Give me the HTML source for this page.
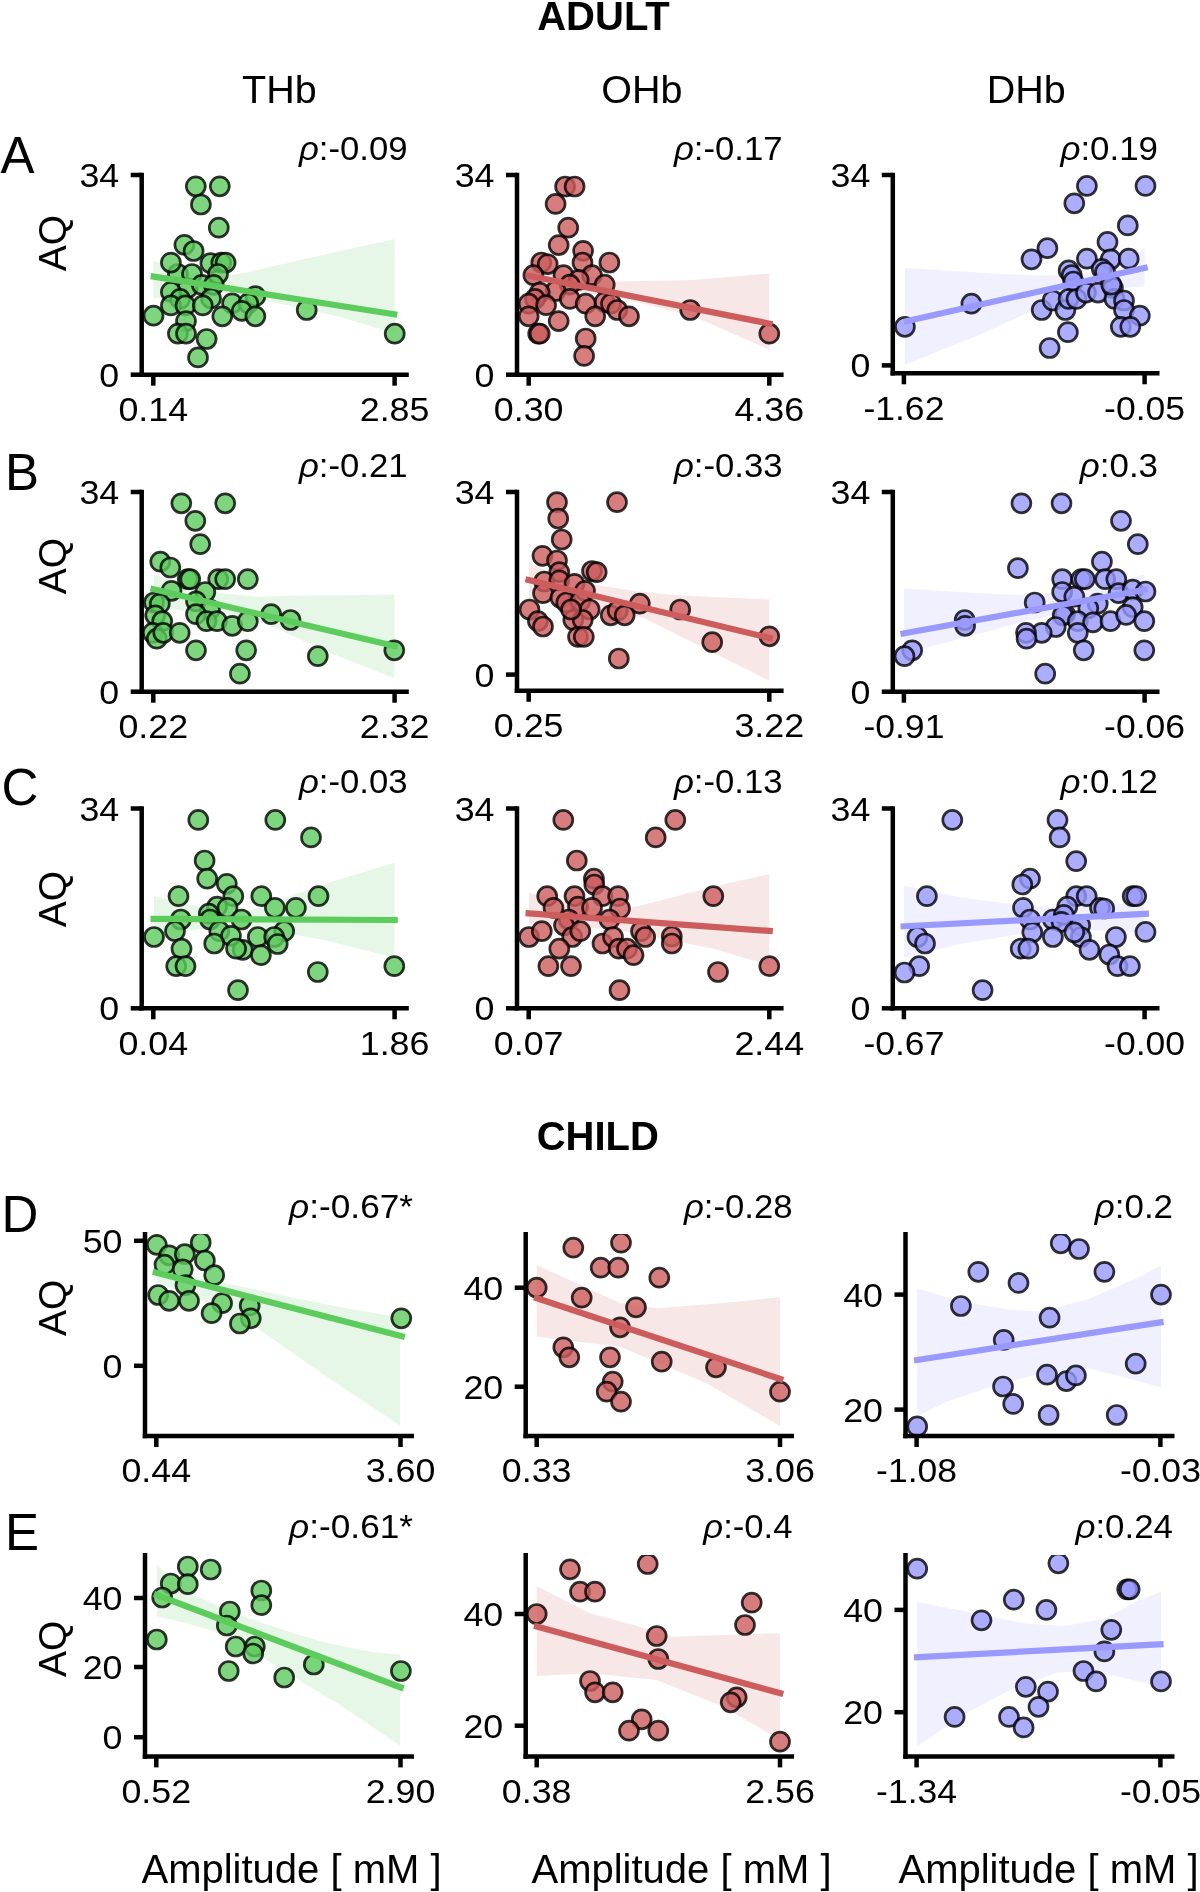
<!DOCTYPE html>
<html><head><meta charset="utf-8"><style>
html,body{margin:0;padding:0;background:#fff;width:1200px;height:1892px;overflow:hidden}
svg{display:block;font-family:"Liberation Sans",sans-serif;will-change:transform}
text{fill:#000}
</style></head><body>
<svg width="1200" height="1892" viewBox="0 0 1200 1892">
<rect width="1200" height="1892" fill="#fff"/>
<defs><clipPath id="c0"><rect x="141.7" y="163.0" width="277.1" height="211.7"/></clipPath><clipPath id="c1"><rect x="517.0" y="163.0" width="276.6" height="211.7"/></clipPath><clipPath id="c2"><rect x="892.8" y="163.0" width="276.70000000000005" height="210.3"/></clipPath><clipPath id="c3"><rect x="141.7" y="480.0" width="277.1" height="211.70000000000005"/></clipPath><clipPath id="c4"><rect x="517.0" y="480.0" width="276.6" height="210.79999999999995"/></clipPath><clipPath id="c5"><rect x="892.8" y="480.0" width="276.70000000000005" height="211.70000000000005"/></clipPath><clipPath id="c6"><rect x="141.7" y="796.5" width="277.1" height="211.79999999999995"/></clipPath><clipPath id="c7"><rect x="517.0" y="796.5" width="276.6" height="211.79999999999995"/></clipPath><clipPath id="c8"><rect x="892.8" y="796.5" width="276.70000000000005" height="211.79999999999995"/></clipPath><clipPath id="c9"><rect x="145.0" y="1234.0" width="279.0" height="202.0"/></clipPath><clipPath id="c10"><rect x="525.7" y="1234.0" width="278.29999999999995" height="202.0"/></clipPath><clipPath id="c11"><rect x="905.5" y="1234.0" width="279.0" height="202.0"/></clipPath><clipPath id="c12"><rect x="145.0" y="1555.0" width="279.0" height="201.4000000000001"/></clipPath><clipPath id="c13"><rect x="525.7" y="1555.0" width="278.29999999999995" height="201.4000000000001"/></clipPath><clipPath id="c14"><rect x="905.5" y="1555.0" width="279.0" height="201.4000000000001"/></clipPath></defs>
<g clip-path="url(#c0)">
<polygon points="153.3,260.7 193.0,272.5 220.0,277.0 247.0,272.5 287.0,263.0 340.0,251.0 394.7,239.3 394.7,333.2 340.0,317.0 287.0,305.0 247.0,297.0 220.0,292.5 193.0,293.0 153.3,298.5" fill="#5ccc5c" fill-opacity="0.15"/>
<circle cx="195.8" cy="186.3" r="9.5" fill="#5ccc5c" fill-opacity="0.8" stroke="#000" stroke-opacity="0.8" stroke-width="2.7"/>
<circle cx="219.8" cy="186.3" r="9.5" fill="#5ccc5c" fill-opacity="0.8" stroke="#000" stroke-opacity="0.8" stroke-width="2.7"/>
<circle cx="200.9" cy="204.5" r="9.5" fill="#5ccc5c" fill-opacity="0.8" stroke="#000" stroke-opacity="0.8" stroke-width="2.7"/>
<circle cx="218.8" cy="227.7" r="9.5" fill="#5ccc5c" fill-opacity="0.8" stroke="#000" stroke-opacity="0.8" stroke-width="2.7"/>
<circle cx="184.4" cy="244.8" r="9.5" fill="#5ccc5c" fill-opacity="0.8" stroke="#000" stroke-opacity="0.8" stroke-width="2.7"/>
<circle cx="193.6" cy="251.0" r="9.5" fill="#5ccc5c" fill-opacity="0.8" stroke="#000" stroke-opacity="0.8" stroke-width="2.7"/>
<circle cx="177.9" cy="274.0" r="9.5" fill="#5ccc5c" fill-opacity="0.8" stroke="#000" stroke-opacity="0.8" stroke-width="2.7"/>
<circle cx="187.7" cy="288.1" r="9.5" fill="#5ccc5c" fill-opacity="0.8" stroke="#000" stroke-opacity="0.8" stroke-width="2.7"/>
<circle cx="170.9" cy="262.6" r="9.5" fill="#5ccc5c" fill-opacity="0.8" stroke="#000" stroke-opacity="0.8" stroke-width="2.7"/>
<circle cx="210.4" cy="263.2" r="9.5" fill="#5ccc5c" fill-opacity="0.8" stroke="#000" stroke-opacity="0.8" stroke-width="2.7"/>
<circle cx="221.3" cy="262.6" r="9.5" fill="#5ccc5c" fill-opacity="0.8" stroke="#000" stroke-opacity="0.8" stroke-width="2.7"/>
<circle cx="225.6" cy="262.6" r="9.5" fill="#5ccc5c" fill-opacity="0.8" stroke="#000" stroke-opacity="0.8" stroke-width="2.7"/>
<circle cx="192.0" cy="274.0" r="9.5" fill="#5ccc5c" fill-opacity="0.8" stroke="#000" stroke-opacity="0.8" stroke-width="2.7"/>
<circle cx="218.0" cy="274.0" r="9.5" fill="#5ccc5c" fill-opacity="0.8" stroke="#000" stroke-opacity="0.8" stroke-width="2.7"/>
<circle cx="201.8" cy="284.8" r="9.5" fill="#5ccc5c" fill-opacity="0.8" stroke="#000" stroke-opacity="0.8" stroke-width="2.7"/>
<circle cx="213.7" cy="284.8" r="9.5" fill="#5ccc5c" fill-opacity="0.8" stroke="#000" stroke-opacity="0.8" stroke-width="2.7"/>
<circle cx="170.9" cy="291.9" r="9.5" fill="#5ccc5c" fill-opacity="0.8" stroke="#000" stroke-opacity="0.8" stroke-width="2.7"/>
<circle cx="180.1" cy="298.9" r="9.5" fill="#5ccc5c" fill-opacity="0.8" stroke="#000" stroke-opacity="0.8" stroke-width="2.7"/>
<circle cx="211.0" cy="298.4" r="9.5" fill="#5ccc5c" fill-opacity="0.8" stroke="#000" stroke-opacity="0.8" stroke-width="2.7"/>
<circle cx="170.9" cy="305.4" r="9.5" fill="#5ccc5c" fill-opacity="0.8" stroke="#000" stroke-opacity="0.8" stroke-width="2.7"/>
<circle cx="185.5" cy="305.4" r="9.5" fill="#5ccc5c" fill-opacity="0.8" stroke="#000" stroke-opacity="0.8" stroke-width="2.7"/>
<circle cx="202.8" cy="305.4" r="9.5" fill="#5ccc5c" fill-opacity="0.8" stroke="#000" stroke-opacity="0.8" stroke-width="2.7"/>
<circle cx="232.1" cy="303.3" r="9.5" fill="#5ccc5c" fill-opacity="0.8" stroke="#000" stroke-opacity="0.8" stroke-width="2.7"/>
<circle cx="255.4" cy="296.2" r="9.5" fill="#5ccc5c" fill-opacity="0.8" stroke="#000" stroke-opacity="0.8" stroke-width="2.7"/>
<circle cx="248.3" cy="303.3" r="9.5" fill="#5ccc5c" fill-opacity="0.8" stroke="#000" stroke-opacity="0.8" stroke-width="2.7"/>
<circle cx="241.8" cy="310.8" r="9.5" fill="#5ccc5c" fill-opacity="0.8" stroke="#000" stroke-opacity="0.8" stroke-width="2.7"/>
<circle cx="153.5" cy="315.7" r="9.5" fill="#5ccc5c" fill-opacity="0.8" stroke="#000" stroke-opacity="0.8" stroke-width="2.7"/>
<circle cx="222.3" cy="316.3" r="9.5" fill="#5ccc5c" fill-opacity="0.8" stroke="#000" stroke-opacity="0.8" stroke-width="2.7"/>
<circle cx="255.4" cy="316.3" r="9.5" fill="#5ccc5c" fill-opacity="0.8" stroke="#000" stroke-opacity="0.8" stroke-width="2.7"/>
<circle cx="186.0" cy="321.1" r="9.5" fill="#5ccc5c" fill-opacity="0.8" stroke="#000" stroke-opacity="0.8" stroke-width="2.7"/>
<circle cx="177.9" cy="333.6" r="9.5" fill="#5ccc5c" fill-opacity="0.8" stroke="#000" stroke-opacity="0.8" stroke-width="2.7"/>
<circle cx="186.0" cy="333.6" r="9.5" fill="#5ccc5c" fill-opacity="0.8" stroke="#000" stroke-opacity="0.8" stroke-width="2.7"/>
<circle cx="206.6" cy="339.0" r="9.5" fill="#5ccc5c" fill-opacity="0.8" stroke="#000" stroke-opacity="0.8" stroke-width="2.7"/>
<circle cx="198.0" cy="357.4" r="9.5" fill="#5ccc5c" fill-opacity="0.8" stroke="#000" stroke-opacity="0.8" stroke-width="2.7"/>
<circle cx="306.7" cy="310.0" r="9.5" fill="#5ccc5c" fill-opacity="0.8" stroke="#000" stroke-opacity="0.8" stroke-width="2.7"/>
<circle cx="394.7" cy="333.7" r="9.5" fill="#5ccc5c" fill-opacity="0.8" stroke="#000" stroke-opacity="0.8" stroke-width="2.7"/>
<line x1="150.7" y1="276.1" x2="397.3" y2="314.8" stroke="#5ccc5c" stroke-width="6.2" stroke-linecap="butt"/>
</g>
<line x1="141.7" y1="172.8" x2="141.7" y2="376.95" stroke="#000" stroke-width="4.5"/>
<line x1="139.45" y1="374.7" x2="408.8" y2="374.7" stroke="#000" stroke-width="4.5"/>
<line x1="130.7" y1="175.0" x2="141.7" y2="175.0" stroke="#000" stroke-width="4.5"/>
<line x1="130.7" y1="374.7" x2="141.7" y2="374.7" stroke="#000" stroke-width="4.5"/>
<line x1="153.3" y1="374.7" x2="153.3" y2="385.7" stroke="#000" stroke-width="4.5"/>
<line x1="394.6" y1="374.7" x2="394.6" y2="385.7" stroke="#000" stroke-width="4.5"/>
<text x="119.2" y="187.0" font-size="32.4" text-anchor="end" textLength="39.8" lengthAdjust="spacingAndGlyphs">34</text>
<text x="119.2" y="386.7" font-size="32.4" text-anchor="end" textLength="19.9" lengthAdjust="spacingAndGlyphs">0</text>
<text x="153.3" y="421.0" font-size="32.4" text-anchor="middle" textLength="69.7" lengthAdjust="spacingAndGlyphs">0.14</text>
<text x="394.6" y="421.0" font-size="32.4" text-anchor="middle" textLength="69.7" lengthAdjust="spacingAndGlyphs">2.85</text>
<text x="407.5" y="159.7" font-size="32.4" text-anchor="end" textLength="108.6" lengthAdjust="spacingAndGlyphs"><tspan font-style="italic">ρ</tspan>:-0.09</text>
<g clip-path="url(#c1)">
<polygon points="528.7,259.3 582.5,275.2 617.3,281.5 693.3,279.9 769.3,273.6 769.3,349.6 693.3,316.3 617.3,297.3 582.5,292.6 528.7,297.3" fill="#cd5c5c" fill-opacity="0.15"/>
<circle cx="565.1" cy="186.5" r="9.5" fill="#cd5c5c" fill-opacity="0.8" stroke="#000" stroke-opacity="0.8" stroke-width="2.7"/>
<circle cx="574.6" cy="186.5" r="9.5" fill="#cd5c5c" fill-opacity="0.8" stroke="#000" stroke-opacity="0.8" stroke-width="2.7"/>
<circle cx="555.6" cy="203.9" r="9.5" fill="#cd5c5c" fill-opacity="0.8" stroke="#000" stroke-opacity="0.8" stroke-width="2.7"/>
<circle cx="568.2" cy="227.7" r="9.5" fill="#cd5c5c" fill-opacity="0.8" stroke="#000" stroke-opacity="0.8" stroke-width="2.7"/>
<circle cx="558.7" cy="245.1" r="9.5" fill="#cd5c5c" fill-opacity="0.8" stroke="#000" stroke-opacity="0.8" stroke-width="2.7"/>
<circle cx="583.1" cy="250.8" r="9.5" fill="#cd5c5c" fill-opacity="0.8" stroke="#000" stroke-opacity="0.8" stroke-width="2.7"/>
<circle cx="582.5" cy="262.5" r="9.5" fill="#cd5c5c" fill-opacity="0.8" stroke="#000" stroke-opacity="0.8" stroke-width="2.7"/>
<circle cx="541.3" cy="262.5" r="9.5" fill="#cd5c5c" fill-opacity="0.8" stroke="#000" stroke-opacity="0.8" stroke-width="2.7"/>
<circle cx="547.7" cy="264.1" r="9.5" fill="#cd5c5c" fill-opacity="0.8" stroke="#000" stroke-opacity="0.8" stroke-width="2.7"/>
<circle cx="609.4" cy="262.5" r="9.5" fill="#cd5c5c" fill-opacity="0.8" stroke="#000" stroke-opacity="0.8" stroke-width="2.7"/>
<circle cx="533.4" cy="275.2" r="9.5" fill="#cd5c5c" fill-opacity="0.8" stroke="#000" stroke-opacity="0.8" stroke-width="2.7"/>
<circle cx="563.5" cy="275.2" r="9.5" fill="#cd5c5c" fill-opacity="0.8" stroke="#000" stroke-opacity="0.8" stroke-width="2.7"/>
<circle cx="592.0" cy="275.2" r="9.5" fill="#cd5c5c" fill-opacity="0.8" stroke="#000" stroke-opacity="0.8" stroke-width="2.7"/>
<circle cx="578.7" cy="279.9" r="9.5" fill="#cd5c5c" fill-opacity="0.8" stroke="#000" stroke-opacity="0.8" stroke-width="2.7"/>
<circle cx="604.7" cy="284.7" r="9.5" fill="#cd5c5c" fill-opacity="0.8" stroke="#000" stroke-opacity="0.8" stroke-width="2.7"/>
<circle cx="569.8" cy="284.7" r="9.5" fill="#cd5c5c" fill-opacity="0.8" stroke="#000" stroke-opacity="0.8" stroke-width="2.7"/>
<circle cx="555.6" cy="291.0" r="9.5" fill="#cd5c5c" fill-opacity="0.8" stroke="#000" stroke-opacity="0.8" stroke-width="2.7"/>
<circle cx="539.7" cy="292.6" r="9.5" fill="#cd5c5c" fill-opacity="0.8" stroke="#000" stroke-opacity="0.8" stroke-width="2.7"/>
<circle cx="535.0" cy="298.9" r="9.5" fill="#cd5c5c" fill-opacity="0.8" stroke="#000" stroke-opacity="0.8" stroke-width="2.7"/>
<circle cx="569.8" cy="298.9" r="9.5" fill="#cd5c5c" fill-opacity="0.8" stroke="#000" stroke-opacity="0.8" stroke-width="2.7"/>
<circle cx="528.7" cy="303.7" r="9.5" fill="#cd5c5c" fill-opacity="0.8" stroke="#000" stroke-opacity="0.8" stroke-width="2.7"/>
<circle cx="546.1" cy="305.2" r="9.5" fill="#cd5c5c" fill-opacity="0.8" stroke="#000" stroke-opacity="0.8" stroke-width="2.7"/>
<circle cx="585.7" cy="303.7" r="9.5" fill="#cd5c5c" fill-opacity="0.8" stroke="#000" stroke-opacity="0.8" stroke-width="2.7"/>
<circle cx="604.7" cy="302.1" r="9.5" fill="#cd5c5c" fill-opacity="0.8" stroke="#000" stroke-opacity="0.8" stroke-width="2.7"/>
<circle cx="611.0" cy="303.7" r="9.5" fill="#cd5c5c" fill-opacity="0.8" stroke="#000" stroke-opacity="0.8" stroke-width="2.7"/>
<circle cx="617.3" cy="310.0" r="9.5" fill="#cd5c5c" fill-opacity="0.8" stroke="#000" stroke-opacity="0.8" stroke-width="2.7"/>
<circle cx="595.2" cy="316.3" r="9.5" fill="#cd5c5c" fill-opacity="0.8" stroke="#000" stroke-opacity="0.8" stroke-width="2.7"/>
<circle cx="629.0" cy="316.3" r="9.5" fill="#cd5c5c" fill-opacity="0.8" stroke="#000" stroke-opacity="0.8" stroke-width="2.7"/>
<circle cx="528.7" cy="316.3" r="9.5" fill="#cd5c5c" fill-opacity="0.8" stroke="#000" stroke-opacity="0.8" stroke-width="2.7"/>
<circle cx="558.7" cy="321.1" r="9.5" fill="#cd5c5c" fill-opacity="0.8" stroke="#000" stroke-opacity="0.8" stroke-width="2.7"/>
<circle cx="538.2" cy="333.7" r="9.5" fill="#cd5c5c" fill-opacity="0.8" stroke="#000" stroke-opacity="0.8" stroke-width="2.7"/>
<circle cx="539.7" cy="333.7" r="9.5" fill="#cd5c5c" fill-opacity="0.8" stroke="#000" stroke-opacity="0.8" stroke-width="2.7"/>
<circle cx="585.7" cy="338.5" r="9.5" fill="#cd5c5c" fill-opacity="0.8" stroke="#000" stroke-opacity="0.8" stroke-width="2.7"/>
<circle cx="584.1" cy="355.9" r="9.5" fill="#cd5c5c" fill-opacity="0.8" stroke="#000" stroke-opacity="0.8" stroke-width="2.7"/>
<circle cx="690.2" cy="310.0" r="9.5" fill="#cd5c5c" fill-opacity="0.8" stroke="#000" stroke-opacity="0.8" stroke-width="2.7"/>
<circle cx="769.3" cy="333.7" r="9.5" fill="#cd5c5c" fill-opacity="0.8" stroke="#000" stroke-opacity="0.8" stroke-width="2.7"/>
<line x1="526.1" y1="275.2" x2="772.5" y2="324.2" stroke="#cd5c5c" stroke-width="6.2" stroke-linecap="butt"/>
</g>
<line x1="517.0" y1="172.8" x2="517.0" y2="376.95" stroke="#000" stroke-width="4.5"/>
<line x1="514.75" y1="374.7" x2="783.6" y2="374.7" stroke="#000" stroke-width="4.5"/>
<line x1="506.0" y1="175.0" x2="517.0" y2="175.0" stroke="#000" stroke-width="4.5"/>
<line x1="506.0" y1="374.7" x2="517.0" y2="374.7" stroke="#000" stroke-width="4.5"/>
<line x1="528.7" y1="374.7" x2="528.7" y2="385.7" stroke="#000" stroke-width="4.5"/>
<line x1="769.3" y1="374.7" x2="769.3" y2="385.7" stroke="#000" stroke-width="4.5"/>
<text x="494.5" y="187.0" font-size="32.4" text-anchor="end" textLength="39.8" lengthAdjust="spacingAndGlyphs">34</text>
<text x="494.5" y="386.7" font-size="32.4" text-anchor="end" textLength="19.9" lengthAdjust="spacingAndGlyphs">0</text>
<text x="528.7" y="421.0" font-size="32.4" text-anchor="middle" textLength="69.7" lengthAdjust="spacingAndGlyphs">0.30</text>
<text x="769.3" y="421.0" font-size="32.4" text-anchor="middle" textLength="69.7" lengthAdjust="spacingAndGlyphs">4.36</text>
<text x="782.5" y="159.7" font-size="32.4" text-anchor="end" textLength="108.6" lengthAdjust="spacingAndGlyphs"><tspan font-style="italic">ρ</tspan>:-0.17</text>
<g clip-path="url(#c2)">
<polygon points="904.9,267.9 994.2,273.6 1041.7,275.8 1105.0,272.0 1144.6,248.2 1144.6,286.2 1089.2,291.0 1041.7,306.8 978.3,335.3 904.9,364.8" fill="#9999ff" fill-opacity="0.15"/>
<circle cx="1086.9" cy="185.9" r="9.5" fill="#9999ff" fill-opacity="0.8" stroke="#000" stroke-opacity="0.8" stroke-width="2.7"/>
<circle cx="1145.5" cy="185.9" r="9.5" fill="#9999ff" fill-opacity="0.8" stroke="#000" stroke-opacity="0.8" stroke-width="2.7"/>
<circle cx="1074.3" cy="203.3" r="9.5" fill="#9999ff" fill-opacity="0.8" stroke="#000" stroke-opacity="0.8" stroke-width="2.7"/>
<circle cx="1127.8" cy="225.4" r="9.5" fill="#9999ff" fill-opacity="0.8" stroke="#000" stroke-opacity="0.8" stroke-width="2.7"/>
<circle cx="1107.5" cy="241.9" r="9.5" fill="#9999ff" fill-opacity="0.8" stroke="#000" stroke-opacity="0.8" stroke-width="2.7"/>
<circle cx="1047.4" cy="248.2" r="9.5" fill="#9999ff" fill-opacity="0.8" stroke="#000" stroke-opacity="0.8" stroke-width="2.7"/>
<circle cx="1031.5" cy="259.3" r="9.5" fill="#9999ff" fill-opacity="0.8" stroke="#000" stroke-opacity="0.8" stroke-width="2.7"/>
<circle cx="1086.9" cy="258.7" r="9.5" fill="#9999ff" fill-opacity="0.8" stroke="#000" stroke-opacity="0.8" stroke-width="2.7"/>
<circle cx="1110.7" cy="259.3" r="9.5" fill="#9999ff" fill-opacity="0.8" stroke="#000" stroke-opacity="0.8" stroke-width="2.7"/>
<circle cx="1128.7" cy="258.7" r="9.5" fill="#9999ff" fill-opacity="0.8" stroke="#000" stroke-opacity="0.8" stroke-width="2.7"/>
<circle cx="1068.6" cy="270.4" r="9.5" fill="#9999ff" fill-opacity="0.8" stroke="#000" stroke-opacity="0.8" stroke-width="2.7"/>
<circle cx="1071.7" cy="275.2" r="9.5" fill="#9999ff" fill-opacity="0.8" stroke="#000" stroke-opacity="0.8" stroke-width="2.7"/>
<circle cx="1101.8" cy="268.8" r="9.5" fill="#9999ff" fill-opacity="0.8" stroke="#000" stroke-opacity="0.8" stroke-width="2.7"/>
<circle cx="1073.3" cy="281.5" r="9.5" fill="#9999ff" fill-opacity="0.8" stroke="#000" stroke-opacity="0.8" stroke-width="2.7"/>
<circle cx="971.4" cy="303.7" r="9.5" fill="#9999ff" fill-opacity="0.8" stroke="#000" stroke-opacity="0.8" stroke-width="2.7"/>
<circle cx="904.9" cy="326.8" r="9.5" fill="#9999ff" fill-opacity="0.8" stroke="#000" stroke-opacity="0.8" stroke-width="2.7"/>
<circle cx="1041.7" cy="310.0" r="9.5" fill="#9999ff" fill-opacity="0.8" stroke="#000" stroke-opacity="0.8" stroke-width="2.7"/>
<circle cx="1052.7" cy="300.5" r="9.5" fill="#9999ff" fill-opacity="0.8" stroke="#000" stroke-opacity="0.8" stroke-width="2.7"/>
<circle cx="1065.4" cy="310.0" r="9.5" fill="#9999ff" fill-opacity="0.8" stroke="#000" stroke-opacity="0.8" stroke-width="2.7"/>
<circle cx="1068.6" cy="298.9" r="9.5" fill="#9999ff" fill-opacity="0.8" stroke="#000" stroke-opacity="0.8" stroke-width="2.7"/>
<circle cx="1076.5" cy="298.9" r="9.5" fill="#9999ff" fill-opacity="0.8" stroke="#000" stroke-opacity="0.8" stroke-width="2.7"/>
<circle cx="1086.0" cy="292.6" r="9.5" fill="#9999ff" fill-opacity="0.8" stroke="#000" stroke-opacity="0.8" stroke-width="2.7"/>
<circle cx="1098.0" cy="292.6" r="9.5" fill="#9999ff" fill-opacity="0.8" stroke="#000" stroke-opacity="0.8" stroke-width="2.7"/>
<circle cx="1112.9" cy="287.8" r="9.5" fill="#9999ff" fill-opacity="0.8" stroke="#000" stroke-opacity="0.8" stroke-width="2.7"/>
<circle cx="1114.5" cy="298.9" r="9.5" fill="#9999ff" fill-opacity="0.8" stroke="#000" stroke-opacity="0.8" stroke-width="2.7"/>
<circle cx="1124.0" cy="300.5" r="9.5" fill="#9999ff" fill-opacity="0.8" stroke="#000" stroke-opacity="0.8" stroke-width="2.7"/>
<circle cx="1124.0" cy="310.0" r="9.5" fill="#9999ff" fill-opacity="0.8" stroke="#000" stroke-opacity="0.8" stroke-width="2.7"/>
<circle cx="1139.8" cy="315.7" r="9.5" fill="#9999ff" fill-opacity="0.8" stroke="#000" stroke-opacity="0.8" stroke-width="2.7"/>
<circle cx="1120.8" cy="326.8" r="9.5" fill="#9999ff" fill-opacity="0.8" stroke="#000" stroke-opacity="0.8" stroke-width="2.7"/>
<circle cx="1130.3" cy="326.8" r="9.5" fill="#9999ff" fill-opacity="0.8" stroke="#000" stroke-opacity="0.8" stroke-width="2.7"/>
<circle cx="1067.9" cy="332.2" r="9.5" fill="#9999ff" fill-opacity="0.8" stroke="#000" stroke-opacity="0.8" stroke-width="2.7"/>
<circle cx="1049.6" cy="348.0" r="9.5" fill="#9999ff" fill-opacity="0.8" stroke="#000" stroke-opacity="0.8" stroke-width="2.7"/>
<circle cx="1105.0" cy="272.0" r="9.5" fill="#9999ff" fill-opacity="0.8" stroke="#000" stroke-opacity="0.8" stroke-width="2.7"/>
<circle cx="1111.3" cy="284.7" r="9.5" fill="#9999ff" fill-opacity="0.8" stroke="#000" stroke-opacity="0.8" stroke-width="2.7"/>
<line x1="903.9" y1="321.7" x2="1147.7" y2="267.2" stroke="#9999ff" stroke-width="6.2" stroke-linecap="butt"/>
</g>
<line x1="892.8" y1="172.8" x2="892.8" y2="375.55" stroke="#000" stroke-width="4.5"/>
<line x1="890.55" y1="373.3" x2="1159.5" y2="373.3" stroke="#000" stroke-width="4.5"/>
<line x1="881.8" y1="175.0" x2="892.8" y2="175.0" stroke="#000" stroke-width="4.5"/>
<line x1="881.8" y1="365.4" x2="892.8" y2="365.4" stroke="#000" stroke-width="4.5"/>
<line x1="903.9" y1="373.3" x2="903.9" y2="384.3" stroke="#000" stroke-width="4.5"/>
<line x1="1144.6" y1="373.3" x2="1144.6" y2="384.3" stroke="#000" stroke-width="4.5"/>
<text x="870.3" y="187.0" font-size="32.4" text-anchor="end" textLength="39.8" lengthAdjust="spacingAndGlyphs">34</text>
<text x="870.3" y="377.4" font-size="32.4" text-anchor="end" textLength="19.9" lengthAdjust="spacingAndGlyphs">0</text>
<text x="903.9" y="419.6" font-size="32.4" text-anchor="middle" textLength="81.0" lengthAdjust="spacingAndGlyphs">-1.62</text>
<text x="1144.6" y="419.6" font-size="32.4" text-anchor="middle" textLength="81.0" lengthAdjust="spacingAndGlyphs">-0.05</text>
<text x="1158.0" y="159.7" font-size="32.4" text-anchor="end" textLength="97.6" lengthAdjust="spacingAndGlyphs"><tspan font-style="italic">ρ</tspan>:0.19</text>
<g clip-path="url(#c3)">
<polygon points="154.0,574.5 186.7,585.0 221.7,593.2 256.7,596.7 303.3,595.5 394.3,594.8 394.3,678.3 326.7,651.5 268.3,624.7 221.7,613.0 186.7,610.7 154.0,607.2" fill="#5ccc5c" fill-opacity="0.15"/>
<circle cx="181.3" cy="503.3" r="9.5" fill="#5ccc5c" fill-opacity="0.8" stroke="#000" stroke-opacity="0.8" stroke-width="2.7"/>
<circle cx="225.2" cy="503.3" r="9.5" fill="#5ccc5c" fill-opacity="0.8" stroke="#000" stroke-opacity="0.8" stroke-width="2.7"/>
<circle cx="195.3" cy="520.8" r="9.5" fill="#5ccc5c" fill-opacity="0.8" stroke="#000" stroke-opacity="0.8" stroke-width="2.7"/>
<circle cx="200.2" cy="544.2" r="9.5" fill="#5ccc5c" fill-opacity="0.8" stroke="#000" stroke-opacity="0.8" stroke-width="2.7"/>
<circle cx="160.3" cy="561.7" r="9.5" fill="#5ccc5c" fill-opacity="0.8" stroke="#000" stroke-opacity="0.8" stroke-width="2.7"/>
<circle cx="170.3" cy="567.5" r="9.5" fill="#5ccc5c" fill-opacity="0.8" stroke="#000" stroke-opacity="0.8" stroke-width="2.7"/>
<circle cx="187.8" cy="579.2" r="9.5" fill="#5ccc5c" fill-opacity="0.8" stroke="#000" stroke-opacity="0.8" stroke-width="2.7"/>
<circle cx="190.2" cy="579.2" r="9.5" fill="#5ccc5c" fill-opacity="0.8" stroke="#000" stroke-opacity="0.8" stroke-width="2.7"/>
<circle cx="218.2" cy="579.2" r="9.5" fill="#5ccc5c" fill-opacity="0.8" stroke="#000" stroke-opacity="0.8" stroke-width="2.7"/>
<circle cx="225.2" cy="579.2" r="9.5" fill="#5ccc5c" fill-opacity="0.8" stroke="#000" stroke-opacity="0.8" stroke-width="2.7"/>
<circle cx="247.8" cy="579.2" r="9.5" fill="#5ccc5c" fill-opacity="0.8" stroke="#000" stroke-opacity="0.8" stroke-width="2.7"/>
<circle cx="171.5" cy="590.8" r="9.5" fill="#5ccc5c" fill-opacity="0.8" stroke="#000" stroke-opacity="0.8" stroke-width="2.7"/>
<circle cx="205.3" cy="592.0" r="9.5" fill="#5ccc5c" fill-opacity="0.8" stroke="#000" stroke-opacity="0.8" stroke-width="2.7"/>
<circle cx="154.0" cy="602.5" r="9.5" fill="#5ccc5c" fill-opacity="0.8" stroke="#000" stroke-opacity="0.8" stroke-width="2.7"/>
<circle cx="159.8" cy="603.7" r="9.5" fill="#5ccc5c" fill-opacity="0.8" stroke="#000" stroke-opacity="0.8" stroke-width="2.7"/>
<circle cx="196.0" cy="601.3" r="9.5" fill="#5ccc5c" fill-opacity="0.8" stroke="#000" stroke-opacity="0.8" stroke-width="2.7"/>
<circle cx="210.0" cy="609.5" r="9.5" fill="#5ccc5c" fill-opacity="0.8" stroke="#000" stroke-opacity="0.8" stroke-width="2.7"/>
<circle cx="155.2" cy="615.3" r="9.5" fill="#5ccc5c" fill-opacity="0.8" stroke="#000" stroke-opacity="0.8" stroke-width="2.7"/>
<circle cx="162.2" cy="621.2" r="9.5" fill="#5ccc5c" fill-opacity="0.8" stroke="#000" stroke-opacity="0.8" stroke-width="2.7"/>
<circle cx="196.0" cy="614.2" r="9.5" fill="#5ccc5c" fill-opacity="0.8" stroke="#000" stroke-opacity="0.8" stroke-width="2.7"/>
<circle cx="206.5" cy="621.2" r="9.5" fill="#5ccc5c" fill-opacity="0.8" stroke="#000" stroke-opacity="0.8" stroke-width="2.7"/>
<circle cx="217.0" cy="621.2" r="9.5" fill="#5ccc5c" fill-opacity="0.8" stroke="#000" stroke-opacity="0.8" stroke-width="2.7"/>
<circle cx="232.2" cy="625.8" r="9.5" fill="#5ccc5c" fill-opacity="0.8" stroke="#000" stroke-opacity="0.8" stroke-width="2.7"/>
<circle cx="247.8" cy="621.2" r="9.5" fill="#5ccc5c" fill-opacity="0.8" stroke="#000" stroke-opacity="0.8" stroke-width="2.7"/>
<circle cx="271.1" cy="614.2" r="9.5" fill="#5ccc5c" fill-opacity="0.8" stroke="#000" stroke-opacity="0.8" stroke-width="2.7"/>
<circle cx="290.5" cy="620.0" r="9.5" fill="#5ccc5c" fill-opacity="0.8" stroke="#000" stroke-opacity="0.8" stroke-width="2.7"/>
<circle cx="152.8" cy="632.8" r="9.5" fill="#5ccc5c" fill-opacity="0.8" stroke="#000" stroke-opacity="0.8" stroke-width="2.7"/>
<circle cx="156.8" cy="638.7" r="9.5" fill="#5ccc5c" fill-opacity="0.8" stroke="#000" stroke-opacity="0.8" stroke-width="2.7"/>
<circle cx="163.3" cy="632.8" r="9.5" fill="#5ccc5c" fill-opacity="0.8" stroke="#000" stroke-opacity="0.8" stroke-width="2.7"/>
<circle cx="179.7" cy="632.8" r="9.5" fill="#5ccc5c" fill-opacity="0.8" stroke="#000" stroke-opacity="0.8" stroke-width="2.7"/>
<circle cx="196.0" cy="650.3" r="9.5" fill="#5ccc5c" fill-opacity="0.8" stroke="#000" stroke-opacity="0.8" stroke-width="2.7"/>
<circle cx="246.2" cy="650.3" r="9.5" fill="#5ccc5c" fill-opacity="0.8" stroke="#000" stroke-opacity="0.8" stroke-width="2.7"/>
<circle cx="317.8" cy="656.2" r="9.5" fill="#5ccc5c" fill-opacity="0.8" stroke="#000" stroke-opacity="0.8" stroke-width="2.7"/>
<circle cx="239.9" cy="673.7" r="9.5" fill="#5ccc5c" fill-opacity="0.8" stroke="#000" stroke-opacity="0.8" stroke-width="2.7"/>
<circle cx="394.3" cy="650.3" r="9.5" fill="#5ccc5c" fill-opacity="0.8" stroke="#000" stroke-opacity="0.8" stroke-width="2.7"/>
<line x1="150.5" y1="588.5" x2="397.8" y2="646.8" stroke="#5ccc5c" stroke-width="6.2" stroke-linecap="butt"/>
</g>
<line x1="141.7" y1="489.8" x2="141.7" y2="693.95" stroke="#000" stroke-width="4.5"/>
<line x1="139.45" y1="691.7" x2="408.8" y2="691.7" stroke="#000" stroke-width="4.5"/>
<line x1="130.7" y1="492.0" x2="141.7" y2="492.0" stroke="#000" stroke-width="4.5"/>
<line x1="130.7" y1="691.7" x2="141.7" y2="691.7" stroke="#000" stroke-width="4.5"/>
<line x1="153.3" y1="691.7" x2="153.3" y2="702.7" stroke="#000" stroke-width="4.5"/>
<line x1="394.6" y1="691.7" x2="394.6" y2="702.7" stroke="#000" stroke-width="4.5"/>
<text x="119.2" y="504.0" font-size="32.4" text-anchor="end" textLength="39.8" lengthAdjust="spacingAndGlyphs">34</text>
<text x="119.2" y="703.7" font-size="32.4" text-anchor="end" textLength="19.9" lengthAdjust="spacingAndGlyphs">0</text>
<text x="153.3" y="738.0" font-size="32.4" text-anchor="middle" textLength="69.7" lengthAdjust="spacingAndGlyphs">0.22</text>
<text x="394.6" y="738.0" font-size="32.4" text-anchor="middle" textLength="69.7" lengthAdjust="spacingAndGlyphs">2.32</text>
<text x="407.5" y="476.7" font-size="32.4" text-anchor="end" textLength="108.6" lengthAdjust="spacingAndGlyphs"><tspan font-style="italic">ρ</tspan>:-0.21</text>
<g clip-path="url(#c4)">
<polygon points="529.0,562.8 561.7,578.0 596.7,585.0 631.7,590.8 678.3,595.5 769.3,599.5 769.3,680.7 701.7,646.8 643.3,617.7 596.7,606.0 561.7,601.3 529.0,599.0" fill="#cd5c5c" fill-opacity="0.15"/>
<circle cx="557.0" cy="502.2" r="9.5" fill="#cd5c5c" fill-opacity="0.8" stroke="#000" stroke-opacity="0.8" stroke-width="2.7"/>
<circle cx="617.0" cy="502.2" r="9.5" fill="#cd5c5c" fill-opacity="0.8" stroke="#000" stroke-opacity="0.8" stroke-width="2.7"/>
<circle cx="558.2" cy="518.5" r="9.5" fill="#cd5c5c" fill-opacity="0.8" stroke="#000" stroke-opacity="0.8" stroke-width="2.7"/>
<circle cx="561.7" cy="539.5" r="9.5" fill="#cd5c5c" fill-opacity="0.8" stroke="#000" stroke-opacity="0.8" stroke-width="2.7"/>
<circle cx="542.5" cy="555.8" r="9.5" fill="#cd5c5c" fill-opacity="0.8" stroke="#000" stroke-opacity="0.8" stroke-width="2.7"/>
<circle cx="557.0" cy="560.5" r="9.5" fill="#cd5c5c" fill-opacity="0.8" stroke="#000" stroke-opacity="0.8" stroke-width="2.7"/>
<circle cx="559.3" cy="572.2" r="9.5" fill="#cd5c5c" fill-opacity="0.8" stroke="#000" stroke-opacity="0.8" stroke-width="2.7"/>
<circle cx="592.0" cy="571.0" r="9.5" fill="#cd5c5c" fill-opacity="0.8" stroke="#000" stroke-opacity="0.8" stroke-width="2.7"/>
<circle cx="596.7" cy="572.2" r="9.5" fill="#cd5c5c" fill-opacity="0.8" stroke="#000" stroke-opacity="0.8" stroke-width="2.7"/>
<circle cx="544.2" cy="581.5" r="9.5" fill="#cd5c5c" fill-opacity="0.8" stroke="#000" stroke-opacity="0.8" stroke-width="2.7"/>
<circle cx="559.3" cy="580.3" r="9.5" fill="#cd5c5c" fill-opacity="0.8" stroke="#000" stroke-opacity="0.8" stroke-width="2.7"/>
<circle cx="574.5" cy="583.8" r="9.5" fill="#cd5c5c" fill-opacity="0.8" stroke="#000" stroke-opacity="0.8" stroke-width="2.7"/>
<circle cx="543.0" cy="593.2" r="9.5" fill="#cd5c5c" fill-opacity="0.8" stroke="#000" stroke-opacity="0.8" stroke-width="2.7"/>
<circle cx="560.5" cy="597.8" r="9.5" fill="#cd5c5c" fill-opacity="0.8" stroke="#000" stroke-opacity="0.8" stroke-width="2.7"/>
<circle cx="585.0" cy="590.8" r="9.5" fill="#cd5c5c" fill-opacity="0.8" stroke="#000" stroke-opacity="0.8" stroke-width="2.7"/>
<circle cx="566.3" cy="602.5" r="9.5" fill="#cd5c5c" fill-opacity="0.8" stroke="#000" stroke-opacity="0.8" stroke-width="2.7"/>
<circle cx="580.3" cy="601.3" r="9.5" fill="#cd5c5c" fill-opacity="0.8" stroke="#000" stroke-opacity="0.8" stroke-width="2.7"/>
<circle cx="589.7" cy="609.5" r="9.5" fill="#cd5c5c" fill-opacity="0.8" stroke="#000" stroke-opacity="0.8" stroke-width="2.7"/>
<circle cx="529.5" cy="609.5" r="9.5" fill="#cd5c5c" fill-opacity="0.8" stroke="#000" stroke-opacity="0.8" stroke-width="2.7"/>
<circle cx="537.9" cy="621.2" r="9.5" fill="#cd5c5c" fill-opacity="0.8" stroke="#000" stroke-opacity="0.8" stroke-width="2.7"/>
<circle cx="543.0" cy="626.5" r="9.5" fill="#cd5c5c" fill-opacity="0.8" stroke="#000" stroke-opacity="0.8" stroke-width="2.7"/>
<circle cx="573.3" cy="620.0" r="9.5" fill="#cd5c5c" fill-opacity="0.8" stroke="#000" stroke-opacity="0.8" stroke-width="2.7"/>
<circle cx="582.7" cy="620.0" r="9.5" fill="#cd5c5c" fill-opacity="0.8" stroke="#000" stroke-opacity="0.8" stroke-width="2.7"/>
<circle cx="610.7" cy="615.3" r="9.5" fill="#cd5c5c" fill-opacity="0.8" stroke="#000" stroke-opacity="0.8" stroke-width="2.7"/>
<circle cx="617.7" cy="610.7" r="9.5" fill="#cd5c5c" fill-opacity="0.8" stroke="#000" stroke-opacity="0.8" stroke-width="2.7"/>
<circle cx="624.7" cy="615.3" r="9.5" fill="#cd5c5c" fill-opacity="0.8" stroke="#000" stroke-opacity="0.8" stroke-width="2.7"/>
<circle cx="639.8" cy="603.7" r="9.5" fill="#cd5c5c" fill-opacity="0.8" stroke="#000" stroke-opacity="0.8" stroke-width="2.7"/>
<circle cx="680.2" cy="609.5" r="9.5" fill="#cd5c5c" fill-opacity="0.8" stroke="#000" stroke-opacity="0.8" stroke-width="2.7"/>
<circle cx="578.0" cy="636.8" r="9.5" fill="#cd5c5c" fill-opacity="0.8" stroke="#000" stroke-opacity="0.8" stroke-width="2.7"/>
<circle cx="583.8" cy="636.8" r="9.5" fill="#cd5c5c" fill-opacity="0.8" stroke="#000" stroke-opacity="0.8" stroke-width="2.7"/>
<circle cx="712.2" cy="642.2" r="9.5" fill="#cd5c5c" fill-opacity="0.8" stroke="#000" stroke-opacity="0.8" stroke-width="2.7"/>
<circle cx="769.3" cy="636.3" r="9.5" fill="#cd5c5c" fill-opacity="0.8" stroke="#000" stroke-opacity="0.8" stroke-width="2.7"/>
<circle cx="618.8" cy="658.5" r="9.5" fill="#cd5c5c" fill-opacity="0.8" stroke="#000" stroke-opacity="0.8" stroke-width="2.7"/>
<circle cx="571.0" cy="609.5" r="9.5" fill="#cd5c5c" fill-opacity="0.8" stroke="#000" stroke-opacity="0.8" stroke-width="2.7"/>
<line x1="525.5" y1="579.2" x2="772.8" y2="638.7" stroke="#cd5c5c" stroke-width="6.2" stroke-linecap="butt"/>
</g>
<line x1="517.0" y1="489.8" x2="517.0" y2="693.05" stroke="#000" stroke-width="4.5"/>
<line x1="514.75" y1="690.8" x2="783.6" y2="690.8" stroke="#000" stroke-width="4.5"/>
<line x1="506.0" y1="492.0" x2="517.0" y2="492.0" stroke="#000" stroke-width="4.5"/>
<line x1="506.0" y1="674.6" x2="517.0" y2="674.6" stroke="#000" stroke-width="4.5"/>
<line x1="528.7" y1="690.8" x2="528.7" y2="701.8" stroke="#000" stroke-width="4.5"/>
<line x1="769.3" y1="690.8" x2="769.3" y2="701.8" stroke="#000" stroke-width="4.5"/>
<text x="494.5" y="504.0" font-size="32.4" text-anchor="end" textLength="39.8" lengthAdjust="spacingAndGlyphs">34</text>
<text x="494.5" y="686.6" font-size="32.4" text-anchor="end" textLength="19.9" lengthAdjust="spacingAndGlyphs">0</text>
<text x="528.7" y="737.1" font-size="32.4" text-anchor="middle" textLength="69.7" lengthAdjust="spacingAndGlyphs">0.25</text>
<text x="769.3" y="737.1" font-size="32.4" text-anchor="middle" textLength="69.7" lengthAdjust="spacingAndGlyphs">3.22</text>
<text x="782.5" y="476.7" font-size="32.4" text-anchor="end" textLength="108.6" lengthAdjust="spacingAndGlyphs"><tspan font-style="italic">ρ</tspan>:-0.33</text>
<g clip-path="url(#c5)">
<polygon points="904.0,588.5 960.0,592.0 1030.0,595.5 1100.0,586.2 1144.3,574.5 1144.3,599.0 1088.3,607.2 1030.0,620.0 960.0,638.7 904.0,653.8" fill="#9999ff" fill-opacity="0.15"/>
<circle cx="1021.4" cy="503.3" r="9.5" fill="#9999ff" fill-opacity="0.8" stroke="#000" stroke-opacity="0.8" stroke-width="2.7"/>
<circle cx="1061.5" cy="503.3" r="9.5" fill="#9999ff" fill-opacity="0.8" stroke="#000" stroke-opacity="0.8" stroke-width="2.7"/>
<circle cx="1121.0" cy="520.8" r="9.5" fill="#9999ff" fill-opacity="0.8" stroke="#000" stroke-opacity="0.8" stroke-width="2.7"/>
<circle cx="1137.8" cy="544.2" r="9.5" fill="#9999ff" fill-opacity="0.8" stroke="#000" stroke-opacity="0.8" stroke-width="2.7"/>
<circle cx="1101.9" cy="561.7" r="9.5" fill="#9999ff" fill-opacity="0.8" stroke="#000" stroke-opacity="0.8" stroke-width="2.7"/>
<circle cx="1017.9" cy="568.2" r="9.5" fill="#9999ff" fill-opacity="0.8" stroke="#000" stroke-opacity="0.8" stroke-width="2.7"/>
<circle cx="1062.2" cy="579.2" r="9.5" fill="#9999ff" fill-opacity="0.8" stroke="#000" stroke-opacity="0.8" stroke-width="2.7"/>
<circle cx="1081.3" cy="579.2" r="9.5" fill="#9999ff" fill-opacity="0.8" stroke="#000" stroke-opacity="0.8" stroke-width="2.7"/>
<circle cx="1084.8" cy="579.2" r="9.5" fill="#9999ff" fill-opacity="0.8" stroke="#000" stroke-opacity="0.8" stroke-width="2.7"/>
<circle cx="1105.1" cy="579.2" r="9.5" fill="#9999ff" fill-opacity="0.8" stroke="#000" stroke-opacity="0.8" stroke-width="2.7"/>
<circle cx="1116.3" cy="579.2" r="9.5" fill="#9999ff" fill-opacity="0.8" stroke="#000" stroke-opacity="0.8" stroke-width="2.7"/>
<circle cx="1062.2" cy="592.0" r="9.5" fill="#9999ff" fill-opacity="0.8" stroke="#000" stroke-opacity="0.8" stroke-width="2.7"/>
<circle cx="1074.3" cy="596.7" r="9.5" fill="#9999ff" fill-opacity="0.8" stroke="#000" stroke-opacity="0.8" stroke-width="2.7"/>
<circle cx="1118.6" cy="593.2" r="9.5" fill="#9999ff" fill-opacity="0.8" stroke="#000" stroke-opacity="0.8" stroke-width="2.7"/>
<circle cx="1132.7" cy="589.7" r="9.5" fill="#9999ff" fill-opacity="0.8" stroke="#000" stroke-opacity="0.8" stroke-width="2.7"/>
<circle cx="1145.5" cy="591.5" r="9.5" fill="#9999ff" fill-opacity="0.8" stroke="#000" stroke-opacity="0.8" stroke-width="2.7"/>
<circle cx="1034.7" cy="602.5" r="9.5" fill="#9999ff" fill-opacity="0.8" stroke="#000" stroke-opacity="0.8" stroke-width="2.7"/>
<circle cx="1097.7" cy="603.7" r="9.5" fill="#9999ff" fill-opacity="0.8" stroke="#000" stroke-opacity="0.8" stroke-width="2.7"/>
<circle cx="1088.3" cy="608.3" r="9.5" fill="#9999ff" fill-opacity="0.8" stroke="#000" stroke-opacity="0.8" stroke-width="2.7"/>
<circle cx="1132.7" cy="607.2" r="9.5" fill="#9999ff" fill-opacity="0.8" stroke="#000" stroke-opacity="0.8" stroke-width="2.7"/>
<circle cx="1065.0" cy="614.2" r="9.5" fill="#9999ff" fill-opacity="0.8" stroke="#000" stroke-opacity="0.8" stroke-width="2.7"/>
<circle cx="1062.7" cy="615.3" r="9.5" fill="#9999ff" fill-opacity="0.8" stroke="#000" stroke-opacity="0.8" stroke-width="2.7"/>
<circle cx="1077.8" cy="621.2" r="9.5" fill="#9999ff" fill-opacity="0.8" stroke="#000" stroke-opacity="0.8" stroke-width="2.7"/>
<circle cx="1093.0" cy="622.3" r="9.5" fill="#9999ff" fill-opacity="0.8" stroke="#000" stroke-opacity="0.8" stroke-width="2.7"/>
<circle cx="1110.5" cy="621.2" r="9.5" fill="#9999ff" fill-opacity="0.8" stroke="#000" stroke-opacity="0.8" stroke-width="2.7"/>
<circle cx="1126.1" cy="614.9" r="9.5" fill="#9999ff" fill-opacity="0.8" stroke="#000" stroke-opacity="0.8" stroke-width="2.7"/>
<circle cx="1144.3" cy="621.2" r="9.5" fill="#9999ff" fill-opacity="0.8" stroke="#000" stroke-opacity="0.8" stroke-width="2.7"/>
<circle cx="964.7" cy="620.0" r="9.5" fill="#9999ff" fill-opacity="0.8" stroke="#000" stroke-opacity="0.8" stroke-width="2.7"/>
<circle cx="965.1" cy="625.8" r="9.5" fill="#9999ff" fill-opacity="0.8" stroke="#000" stroke-opacity="0.8" stroke-width="2.7"/>
<circle cx="1055.7" cy="627.0" r="9.5" fill="#9999ff" fill-opacity="0.8" stroke="#000" stroke-opacity="0.8" stroke-width="2.7"/>
<circle cx="1041.7" cy="632.8" r="9.5" fill="#9999ff" fill-opacity="0.8" stroke="#000" stroke-opacity="0.8" stroke-width="2.7"/>
<circle cx="1026.0" cy="632.8" r="9.5" fill="#9999ff" fill-opacity="0.8" stroke="#000" stroke-opacity="0.8" stroke-width="2.7"/>
<circle cx="1026.5" cy="638.7" r="9.5" fill="#9999ff" fill-opacity="0.8" stroke="#000" stroke-opacity="0.8" stroke-width="2.7"/>
<circle cx="1077.8" cy="632.8" r="9.5" fill="#9999ff" fill-opacity="0.8" stroke="#000" stroke-opacity="0.8" stroke-width="2.7"/>
<circle cx="912.2" cy="650.3" r="9.5" fill="#9999ff" fill-opacity="0.8" stroke="#000" stroke-opacity="0.8" stroke-width="2.7"/>
<circle cx="904.5" cy="656.2" r="9.5" fill="#9999ff" fill-opacity="0.8" stroke="#000" stroke-opacity="0.8" stroke-width="2.7"/>
<circle cx="1083.7" cy="650.3" r="9.5" fill="#9999ff" fill-opacity="0.8" stroke="#000" stroke-opacity="0.8" stroke-width="2.7"/>
<circle cx="1144.3" cy="650.3" r="9.5" fill="#9999ff" fill-opacity="0.8" stroke="#000" stroke-opacity="0.8" stroke-width="2.7"/>
<circle cx="1045.2" cy="673.7" r="9.5" fill="#9999ff" fill-opacity="0.8" stroke="#000" stroke-opacity="0.8" stroke-width="2.7"/>
<line x1="900.5" y1="634.0" x2="1147.8" y2="589.2" stroke="#9999ff" stroke-width="6.2" stroke-linecap="butt"/>
</g>
<line x1="892.8" y1="489.8" x2="892.8" y2="693.95" stroke="#000" stroke-width="4.5"/>
<line x1="890.55" y1="691.7" x2="1159.5" y2="691.7" stroke="#000" stroke-width="4.5"/>
<line x1="881.8" y1="492.0" x2="892.8" y2="492.0" stroke="#000" stroke-width="4.5"/>
<line x1="881.8" y1="691.7" x2="892.8" y2="691.7" stroke="#000" stroke-width="4.5"/>
<line x1="903.9" y1="691.7" x2="903.9" y2="702.7" stroke="#000" stroke-width="4.5"/>
<line x1="1144.6" y1="691.7" x2="1144.6" y2="702.7" stroke="#000" stroke-width="4.5"/>
<text x="870.3" y="504.0" font-size="32.4" text-anchor="end" textLength="39.8" lengthAdjust="spacingAndGlyphs">34</text>
<text x="870.3" y="703.7" font-size="32.4" text-anchor="end" textLength="19.9" lengthAdjust="spacingAndGlyphs">0</text>
<text x="903.9" y="738.0" font-size="32.4" text-anchor="middle" textLength="81.0" lengthAdjust="spacingAndGlyphs">-0.91</text>
<text x="1144.6" y="738.0" font-size="32.4" text-anchor="middle" textLength="81.0" lengthAdjust="spacingAndGlyphs">-0.06</text>
<text x="1158.0" y="476.7" font-size="32.4" text-anchor="end" textLength="78.2" lengthAdjust="spacingAndGlyphs"><tspan font-style="italic">ρ</tspan>:0.3</text>
<g clip-path="url(#c6)">
<polygon points="154.0,896.2 210.0,909.0 245.0,912.5 280.0,899.7 326.7,883.3 394.3,862.8 394.3,958.0 326.7,940.5 280.0,932.3 245.0,926.5 210.0,927.7 154.0,935.8" fill="#5ccc5c" fill-opacity="0.15"/>
<circle cx="198.3" cy="819.9" r="9.5" fill="#5ccc5c" fill-opacity="0.8" stroke="#000" stroke-opacity="0.8" stroke-width="2.7"/>
<circle cx="275.3" cy="819.9" r="9.5" fill="#5ccc5c" fill-opacity="0.8" stroke="#000" stroke-opacity="0.8" stroke-width="2.7"/>
<circle cx="311.0" cy="837.4" r="9.5" fill="#5ccc5c" fill-opacity="0.8" stroke="#000" stroke-opacity="0.8" stroke-width="2.7"/>
<circle cx="204.6" cy="860.5" r="9.5" fill="#5ccc5c" fill-opacity="0.8" stroke="#000" stroke-opacity="0.8" stroke-width="2.7"/>
<circle cx="207.2" cy="878.7" r="9.5" fill="#5ccc5c" fill-opacity="0.8" stroke="#000" stroke-opacity="0.8" stroke-width="2.7"/>
<circle cx="226.8" cy="883.8" r="9.5" fill="#5ccc5c" fill-opacity="0.8" stroke="#000" stroke-opacity="0.8" stroke-width="2.7"/>
<circle cx="233.3" cy="896.2" r="9.5" fill="#5ccc5c" fill-opacity="0.8" stroke="#000" stroke-opacity="0.8" stroke-width="2.7"/>
<circle cx="178.5" cy="896.2" r="9.5" fill="#5ccc5c" fill-opacity="0.8" stroke="#000" stroke-opacity="0.8" stroke-width="2.7"/>
<circle cx="261.3" cy="896.2" r="9.5" fill="#5ccc5c" fill-opacity="0.8" stroke="#000" stroke-opacity="0.8" stroke-width="2.7"/>
<circle cx="318.5" cy="896.2" r="9.5" fill="#5ccc5c" fill-opacity="0.8" stroke="#000" stroke-opacity="0.8" stroke-width="2.7"/>
<circle cx="274.9" cy="907.8" r="9.5" fill="#5ccc5c" fill-opacity="0.8" stroke="#000" stroke-opacity="0.8" stroke-width="2.7"/>
<circle cx="295.9" cy="907.8" r="9.5" fill="#5ccc5c" fill-opacity="0.8" stroke="#000" stroke-opacity="0.8" stroke-width="2.7"/>
<circle cx="217.0" cy="906.7" r="9.5" fill="#5ccc5c" fill-opacity="0.8" stroke="#000" stroke-opacity="0.8" stroke-width="2.7"/>
<circle cx="208.8" cy="913.7" r="9.5" fill="#5ccc5c" fill-opacity="0.8" stroke="#000" stroke-opacity="0.8" stroke-width="2.7"/>
<circle cx="227.5" cy="907.8" r="9.5" fill="#5ccc5c" fill-opacity="0.8" stroke="#000" stroke-opacity="0.8" stroke-width="2.7"/>
<circle cx="180.8" cy="919.5" r="9.5" fill="#5ccc5c" fill-opacity="0.8" stroke="#000" stroke-opacity="0.8" stroke-width="2.7"/>
<circle cx="210.0" cy="919.5" r="9.5" fill="#5ccc5c" fill-opacity="0.8" stroke="#000" stroke-opacity="0.8" stroke-width="2.7"/>
<circle cx="241.5" cy="919.5" r="9.5" fill="#5ccc5c" fill-opacity="0.8" stroke="#000" stroke-opacity="0.8" stroke-width="2.7"/>
<circle cx="175.0" cy="931.2" r="9.5" fill="#5ccc5c" fill-opacity="0.8" stroke="#000" stroke-opacity="0.8" stroke-width="2.7"/>
<circle cx="219.3" cy="931.2" r="9.5" fill="#5ccc5c" fill-opacity="0.8" stroke="#000" stroke-opacity="0.8" stroke-width="2.7"/>
<circle cx="231.0" cy="935.8" r="9.5" fill="#5ccc5c" fill-opacity="0.8" stroke="#000" stroke-opacity="0.8" stroke-width="2.7"/>
<circle cx="284.2" cy="931.2" r="9.5" fill="#5ccc5c" fill-opacity="0.8" stroke="#000" stroke-opacity="0.8" stroke-width="2.7"/>
<circle cx="154.0" cy="937.0" r="9.5" fill="#5ccc5c" fill-opacity="0.8" stroke="#000" stroke-opacity="0.8" stroke-width="2.7"/>
<circle cx="257.8" cy="937.0" r="9.5" fill="#5ccc5c" fill-opacity="0.8" stroke="#000" stroke-opacity="0.8" stroke-width="2.7"/>
<circle cx="274.2" cy="937.0" r="9.5" fill="#5ccc5c" fill-opacity="0.8" stroke="#000" stroke-opacity="0.8" stroke-width="2.7"/>
<circle cx="277.7" cy="944.0" r="9.5" fill="#5ccc5c" fill-opacity="0.8" stroke="#000" stroke-opacity="0.8" stroke-width="2.7"/>
<circle cx="214.2" cy="943.5" r="9.5" fill="#5ccc5c" fill-opacity="0.8" stroke="#000" stroke-opacity="0.8" stroke-width="2.7"/>
<circle cx="181.5" cy="948.7" r="9.5" fill="#5ccc5c" fill-opacity="0.8" stroke="#000" stroke-opacity="0.8" stroke-width="2.7"/>
<circle cx="242.7" cy="949.8" r="9.5" fill="#5ccc5c" fill-opacity="0.8" stroke="#000" stroke-opacity="0.8" stroke-width="2.7"/>
<circle cx="236.1" cy="948.7" r="9.5" fill="#5ccc5c" fill-opacity="0.8" stroke="#000" stroke-opacity="0.8" stroke-width="2.7"/>
<circle cx="260.9" cy="955.2" r="9.5" fill="#5ccc5c" fill-opacity="0.8" stroke="#000" stroke-opacity="0.8" stroke-width="2.7"/>
<circle cx="176.2" cy="966.2" r="9.5" fill="#5ccc5c" fill-opacity="0.8" stroke="#000" stroke-opacity="0.8" stroke-width="2.7"/>
<circle cx="185.5" cy="966.2" r="9.5" fill="#5ccc5c" fill-opacity="0.8" stroke="#000" stroke-opacity="0.8" stroke-width="2.7"/>
<circle cx="317.8" cy="972.0" r="9.5" fill="#5ccc5c" fill-opacity="0.8" stroke="#000" stroke-opacity="0.8" stroke-width="2.7"/>
<circle cx="394.3" cy="966.2" r="9.5" fill="#5ccc5c" fill-opacity="0.8" stroke="#000" stroke-opacity="0.8" stroke-width="2.7"/>
<circle cx="238.0" cy="990.2" r="9.5" fill="#5ccc5c" fill-opacity="0.8" stroke="#000" stroke-opacity="0.8" stroke-width="2.7"/>
<line x1="150.5" y1="918.8" x2="397.8" y2="920.0" stroke="#5ccc5c" stroke-width="6.2" stroke-linecap="butt"/>
</g>
<line x1="141.7" y1="806.3" x2="141.7" y2="1010.55" stroke="#000" stroke-width="4.5"/>
<line x1="139.45" y1="1008.3" x2="408.8" y2="1008.3" stroke="#000" stroke-width="4.5"/>
<line x1="130.7" y1="808.5" x2="141.7" y2="808.5" stroke="#000" stroke-width="4.5"/>
<line x1="130.7" y1="1008.3" x2="141.7" y2="1008.3" stroke="#000" stroke-width="4.5"/>
<line x1="153.3" y1="1008.3" x2="153.3" y2="1019.3" stroke="#000" stroke-width="4.5"/>
<line x1="394.6" y1="1008.3" x2="394.6" y2="1019.3" stroke="#000" stroke-width="4.5"/>
<text x="119.2" y="820.5" font-size="32.4" text-anchor="end" textLength="39.8" lengthAdjust="spacingAndGlyphs">34</text>
<text x="119.2" y="1020.3" font-size="32.4" text-anchor="end" textLength="19.9" lengthAdjust="spacingAndGlyphs">0</text>
<text x="153.3" y="1054.6" font-size="32.4" text-anchor="middle" textLength="69.7" lengthAdjust="spacingAndGlyphs">0.04</text>
<text x="394.6" y="1054.6" font-size="32.4" text-anchor="middle" textLength="69.7" lengthAdjust="spacingAndGlyphs">1.86</text>
<text x="407.5" y="793.3" font-size="32.4" text-anchor="end" textLength="108.6" lengthAdjust="spacingAndGlyphs"><tspan font-style="italic">ρ</tspan>:-0.03</text>
<g clip-path="url(#c7)">
<polygon points="529.0,892.7 585.0,906.7 620.0,910.2 655.0,902.0 713.3,886.8 769.3,874.0 769.3,965.0 713.3,948.7 655.0,937.0 620.0,930.0 585.0,927.7 529.0,924.2" fill="#cd5c5c" fill-opacity="0.15"/>
<circle cx="563.3" cy="819.9" r="9.5" fill="#cd5c5c" fill-opacity="0.8" stroke="#000" stroke-opacity="0.8" stroke-width="2.7"/>
<circle cx="675.3" cy="819.9" r="9.5" fill="#cd5c5c" fill-opacity="0.8" stroke="#000" stroke-opacity="0.8" stroke-width="2.7"/>
<circle cx="655.7" cy="837.4" r="9.5" fill="#cd5c5c" fill-opacity="0.8" stroke="#000" stroke-opacity="0.8" stroke-width="2.7"/>
<circle cx="576.8" cy="860.5" r="9.5" fill="#cd5c5c" fill-opacity="0.8" stroke="#000" stroke-opacity="0.8" stroke-width="2.7"/>
<circle cx="593.9" cy="878.7" r="9.5" fill="#cd5c5c" fill-opacity="0.8" stroke="#000" stroke-opacity="0.8" stroke-width="2.7"/>
<circle cx="594.3" cy="884.5" r="9.5" fill="#cd5c5c" fill-opacity="0.8" stroke="#000" stroke-opacity="0.8" stroke-width="2.7"/>
<circle cx="547.2" cy="896.2" r="9.5" fill="#cd5c5c" fill-opacity="0.8" stroke="#000" stroke-opacity="0.8" stroke-width="2.7"/>
<circle cx="574.5" cy="896.2" r="9.5" fill="#cd5c5c" fill-opacity="0.8" stroke="#000" stroke-opacity="0.8" stroke-width="2.7"/>
<circle cx="602.5" cy="896.2" r="9.5" fill="#cd5c5c" fill-opacity="0.8" stroke="#000" stroke-opacity="0.8" stroke-width="2.7"/>
<circle cx="618.1" cy="896.2" r="9.5" fill="#cd5c5c" fill-opacity="0.8" stroke="#000" stroke-opacity="0.8" stroke-width="2.7"/>
<circle cx="553.5" cy="907.8" r="9.5" fill="#cd5c5c" fill-opacity="0.8" stroke="#000" stroke-opacity="0.8" stroke-width="2.7"/>
<circle cx="578.0" cy="906.7" r="9.5" fill="#cd5c5c" fill-opacity="0.8" stroke="#000" stroke-opacity="0.8" stroke-width="2.7"/>
<circle cx="592.0" cy="907.8" r="9.5" fill="#cd5c5c" fill-opacity="0.8" stroke="#000" stroke-opacity="0.8" stroke-width="2.7"/>
<circle cx="620.0" cy="908.5" r="9.5" fill="#cd5c5c" fill-opacity="0.8" stroke="#000" stroke-opacity="0.8" stroke-width="2.7"/>
<circle cx="568.7" cy="919.5" r="9.5" fill="#cd5c5c" fill-opacity="0.8" stroke="#000" stroke-opacity="0.8" stroke-width="2.7"/>
<circle cx="609.5" cy="919.5" r="9.5" fill="#cd5c5c" fill-opacity="0.8" stroke="#000" stroke-opacity="0.8" stroke-width="2.7"/>
<circle cx="564.0" cy="925.3" r="9.5" fill="#cd5c5c" fill-opacity="0.8" stroke="#000" stroke-opacity="0.8" stroke-width="2.7"/>
<circle cx="529.0" cy="937.0" r="9.5" fill="#cd5c5c" fill-opacity="0.8" stroke="#000" stroke-opacity="0.8" stroke-width="2.7"/>
<circle cx="541.8" cy="931.2" r="9.5" fill="#cd5c5c" fill-opacity="0.8" stroke="#000" stroke-opacity="0.8" stroke-width="2.7"/>
<circle cx="572.2" cy="937.0" r="9.5" fill="#cd5c5c" fill-opacity="0.8" stroke="#000" stroke-opacity="0.8" stroke-width="2.7"/>
<circle cx="580.3" cy="931.2" r="9.5" fill="#cd5c5c" fill-opacity="0.8" stroke="#000" stroke-opacity="0.8" stroke-width="2.7"/>
<circle cx="602.5" cy="943.5" r="9.5" fill="#cd5c5c" fill-opacity="0.8" stroke="#000" stroke-opacity="0.8" stroke-width="2.7"/>
<circle cx="613.0" cy="937.0" r="9.5" fill="#cd5c5c" fill-opacity="0.8" stroke="#000" stroke-opacity="0.8" stroke-width="2.7"/>
<circle cx="641.0" cy="931.2" r="9.5" fill="#cd5c5c" fill-opacity="0.8" stroke="#000" stroke-opacity="0.8" stroke-width="2.7"/>
<circle cx="645.2" cy="937.0" r="9.5" fill="#cd5c5c" fill-opacity="0.8" stroke="#000" stroke-opacity="0.8" stroke-width="2.7"/>
<circle cx="671.8" cy="936.5" r="9.5" fill="#cd5c5c" fill-opacity="0.8" stroke="#000" stroke-opacity="0.8" stroke-width="2.7"/>
<circle cx="671.8" cy="943.5" r="9.5" fill="#cd5c5c" fill-opacity="0.8" stroke="#000" stroke-opacity="0.8" stroke-width="2.7"/>
<circle cx="559.3" cy="948.7" r="9.5" fill="#cd5c5c" fill-opacity="0.8" stroke="#000" stroke-opacity="0.8" stroke-width="2.7"/>
<circle cx="618.8" cy="948.7" r="9.5" fill="#cd5c5c" fill-opacity="0.8" stroke="#000" stroke-opacity="0.8" stroke-width="2.7"/>
<circle cx="627.0" cy="948.7" r="9.5" fill="#cd5c5c" fill-opacity="0.8" stroke="#000" stroke-opacity="0.8" stroke-width="2.7"/>
<circle cx="633.5" cy="955.2" r="9.5" fill="#cd5c5c" fill-opacity="0.8" stroke="#000" stroke-opacity="0.8" stroke-width="2.7"/>
<circle cx="713.3" cy="896.2" r="9.5" fill="#cd5c5c" fill-opacity="0.8" stroke="#000" stroke-opacity="0.8" stroke-width="2.7"/>
<circle cx="548.4" cy="966.2" r="9.5" fill="#cd5c5c" fill-opacity="0.8" stroke="#000" stroke-opacity="0.8" stroke-width="2.7"/>
<circle cx="571.0" cy="966.2" r="9.5" fill="#cd5c5c" fill-opacity="0.8" stroke="#000" stroke-opacity="0.8" stroke-width="2.7"/>
<circle cx="718.0" cy="972.0" r="9.5" fill="#cd5c5c" fill-opacity="0.8" stroke="#000" stroke-opacity="0.8" stroke-width="2.7"/>
<circle cx="769.3" cy="966.2" r="9.5" fill="#cd5c5c" fill-opacity="0.8" stroke="#000" stroke-opacity="0.8" stroke-width="2.7"/>
<circle cx="619.5" cy="990.2" r="9.5" fill="#cd5c5c" fill-opacity="0.8" stroke="#000" stroke-opacity="0.8" stroke-width="2.7"/>
<line x1="525.5" y1="913.2" x2="772.8" y2="931.2" stroke="#cd5c5c" stroke-width="6.2" stroke-linecap="butt"/>
</g>
<line x1="517.0" y1="806.3" x2="517.0" y2="1010.55" stroke="#000" stroke-width="4.5"/>
<line x1="514.75" y1="1008.3" x2="783.6" y2="1008.3" stroke="#000" stroke-width="4.5"/>
<line x1="506.0" y1="808.5" x2="517.0" y2="808.5" stroke="#000" stroke-width="4.5"/>
<line x1="506.0" y1="1008.3" x2="517.0" y2="1008.3" stroke="#000" stroke-width="4.5"/>
<line x1="528.7" y1="1008.3" x2="528.7" y2="1019.3" stroke="#000" stroke-width="4.5"/>
<line x1="769.3" y1="1008.3" x2="769.3" y2="1019.3" stroke="#000" stroke-width="4.5"/>
<text x="494.5" y="820.5" font-size="32.4" text-anchor="end" textLength="39.8" lengthAdjust="spacingAndGlyphs">34</text>
<text x="494.5" y="1020.3" font-size="32.4" text-anchor="end" textLength="19.9" lengthAdjust="spacingAndGlyphs">0</text>
<text x="528.7" y="1054.6" font-size="32.4" text-anchor="middle" textLength="69.7" lengthAdjust="spacingAndGlyphs">0.07</text>
<text x="769.3" y="1054.6" font-size="32.4" text-anchor="middle" textLength="69.7" lengthAdjust="spacingAndGlyphs">2.44</text>
<text x="782.5" y="793.3" font-size="32.4" text-anchor="end" textLength="108.6" lengthAdjust="spacingAndGlyphs"><tspan font-style="italic">ρ</tspan>:-0.13</text>
<g clip-path="url(#c8)">
<polygon points="904.0,885.7 960.0,897.3 1030.0,906.7 1088.3,906.7 1144.3,902.0 1144.3,932.3 1088.3,930.0 1030.0,932.3 960.0,944.0 904.0,957.5" fill="#9999ff" fill-opacity="0.15"/>
<circle cx="952.3" cy="819.9" r="9.5" fill="#9999ff" fill-opacity="0.8" stroke="#000" stroke-opacity="0.8" stroke-width="2.7"/>
<circle cx="1057.5" cy="819.9" r="9.5" fill="#9999ff" fill-opacity="0.8" stroke="#000" stroke-opacity="0.8" stroke-width="2.7"/>
<circle cx="1059.6" cy="837.4" r="9.5" fill="#9999ff" fill-opacity="0.8" stroke="#000" stroke-opacity="0.8" stroke-width="2.7"/>
<circle cx="1076.2" cy="861.2" r="9.5" fill="#9999ff" fill-opacity="0.8" stroke="#000" stroke-opacity="0.8" stroke-width="2.7"/>
<circle cx="1030.0" cy="878.7" r="9.5" fill="#9999ff" fill-opacity="0.8" stroke="#000" stroke-opacity="0.8" stroke-width="2.7"/>
<circle cx="1022.3" cy="884.5" r="9.5" fill="#9999ff" fill-opacity="0.8" stroke="#000" stroke-opacity="0.8" stroke-width="2.7"/>
<circle cx="926.9" cy="896.2" r="9.5" fill="#9999ff" fill-opacity="0.8" stroke="#000" stroke-opacity="0.8" stroke-width="2.7"/>
<circle cx="1076.2" cy="896.2" r="9.5" fill="#9999ff" fill-opacity="0.8" stroke="#000" stroke-opacity="0.8" stroke-width="2.7"/>
<circle cx="1086.7" cy="896.2" r="9.5" fill="#9999ff" fill-opacity="0.8" stroke="#000" stroke-opacity="0.8" stroke-width="2.7"/>
<circle cx="1132.7" cy="896.2" r="9.5" fill="#9999ff" fill-opacity="0.8" stroke="#000" stroke-opacity="0.8" stroke-width="2.7"/>
<circle cx="1136.2" cy="896.2" r="9.5" fill="#9999ff" fill-opacity="0.8" stroke="#000" stroke-opacity="0.8" stroke-width="2.7"/>
<circle cx="1023.0" cy="907.8" r="9.5" fill="#9999ff" fill-opacity="0.8" stroke="#000" stroke-opacity="0.8" stroke-width="2.7"/>
<circle cx="1067.3" cy="906.7" r="9.5" fill="#9999ff" fill-opacity="0.8" stroke="#000" stroke-opacity="0.8" stroke-width="2.7"/>
<circle cx="1100.0" cy="907.8" r="9.5" fill="#9999ff" fill-opacity="0.8" stroke="#000" stroke-opacity="0.8" stroke-width="2.7"/>
<circle cx="1104.2" cy="908.5" r="9.5" fill="#9999ff" fill-opacity="0.8" stroke="#000" stroke-opacity="0.8" stroke-width="2.7"/>
<circle cx="1030.0" cy="919.5" r="9.5" fill="#9999ff" fill-opacity="0.8" stroke="#000" stroke-opacity="0.8" stroke-width="2.7"/>
<circle cx="1052.9" cy="919.5" r="9.5" fill="#9999ff" fill-opacity="0.8" stroke="#000" stroke-opacity="0.8" stroke-width="2.7"/>
<circle cx="1063.8" cy="914.8" r="9.5" fill="#9999ff" fill-opacity="0.8" stroke="#000" stroke-opacity="0.8" stroke-width="2.7"/>
<circle cx="1061.5" cy="921.8" r="9.5" fill="#9999ff" fill-opacity="0.8" stroke="#000" stroke-opacity="0.8" stroke-width="2.7"/>
<circle cx="1080.2" cy="925.3" r="9.5" fill="#9999ff" fill-opacity="0.8" stroke="#000" stroke-opacity="0.8" stroke-width="2.7"/>
<circle cx="1032.3" cy="932.3" r="9.5" fill="#9999ff" fill-opacity="0.8" stroke="#000" stroke-opacity="0.8" stroke-width="2.7"/>
<circle cx="917.5" cy="937.0" r="9.5" fill="#9999ff" fill-opacity="0.8" stroke="#000" stroke-opacity="0.8" stroke-width="2.7"/>
<circle cx="925.0" cy="943.5" r="9.5" fill="#9999ff" fill-opacity="0.8" stroke="#000" stroke-opacity="0.8" stroke-width="2.7"/>
<circle cx="1052.9" cy="937.0" r="9.5" fill="#9999ff" fill-opacity="0.8" stroke="#000" stroke-opacity="0.8" stroke-width="2.7"/>
<circle cx="1080.9" cy="937.0" r="9.5" fill="#9999ff" fill-opacity="0.8" stroke="#000" stroke-opacity="0.8" stroke-width="2.7"/>
<circle cx="1115.9" cy="937.0" r="9.5" fill="#9999ff" fill-opacity="0.8" stroke="#000" stroke-opacity="0.8" stroke-width="2.7"/>
<circle cx="1145.5" cy="931.9" r="9.5" fill="#9999ff" fill-opacity="0.8" stroke="#000" stroke-opacity="0.8" stroke-width="2.7"/>
<circle cx="1020.7" cy="948.7" r="9.5" fill="#9999ff" fill-opacity="0.8" stroke="#000" stroke-opacity="0.8" stroke-width="2.7"/>
<circle cx="1028.4" cy="948.7" r="9.5" fill="#9999ff" fill-opacity="0.8" stroke="#000" stroke-opacity="0.8" stroke-width="2.7"/>
<circle cx="1089.5" cy="949.8" r="9.5" fill="#9999ff" fill-opacity="0.8" stroke="#000" stroke-opacity="0.8" stroke-width="2.7"/>
<circle cx="1109.3" cy="954.5" r="9.5" fill="#9999ff" fill-opacity="0.8" stroke="#000" stroke-opacity="0.8" stroke-width="2.7"/>
<circle cx="919.2" cy="966.2" r="9.5" fill="#9999ff" fill-opacity="0.8" stroke="#000" stroke-opacity="0.8" stroke-width="2.7"/>
<circle cx="904.5" cy="972.5" r="9.5" fill="#9999ff" fill-opacity="0.8" stroke="#000" stroke-opacity="0.8" stroke-width="2.7"/>
<circle cx="1117.5" cy="966.2" r="9.5" fill="#9999ff" fill-opacity="0.8" stroke="#000" stroke-opacity="0.8" stroke-width="2.7"/>
<circle cx="1129.9" cy="966.2" r="9.5" fill="#9999ff" fill-opacity="0.8" stroke="#000" stroke-opacity="0.8" stroke-width="2.7"/>
<circle cx="982.6" cy="990.2" r="9.5" fill="#9999ff" fill-opacity="0.8" stroke="#000" stroke-opacity="0.8" stroke-width="2.7"/>
<circle cx="1074.3" cy="932.3" r="9.5" fill="#9999ff" fill-opacity="0.8" stroke="#000" stroke-opacity="0.8" stroke-width="2.7"/>
<line x1="900.5" y1="926.5" x2="1149.0" y2="913.7" stroke="#9999ff" stroke-width="6.2" stroke-linecap="butt"/>
</g>
<line x1="892.8" y1="806.3" x2="892.8" y2="1010.55" stroke="#000" stroke-width="4.5"/>
<line x1="890.55" y1="1008.3" x2="1159.5" y2="1008.3" stroke="#000" stroke-width="4.5"/>
<line x1="881.8" y1="808.5" x2="892.8" y2="808.5" stroke="#000" stroke-width="4.5"/>
<line x1="881.8" y1="1008.3" x2="892.8" y2="1008.3" stroke="#000" stroke-width="4.5"/>
<line x1="903.9" y1="1008.3" x2="903.9" y2="1019.3" stroke="#000" stroke-width="4.5"/>
<line x1="1144.6" y1="1008.3" x2="1144.6" y2="1019.3" stroke="#000" stroke-width="4.5"/>
<text x="870.3" y="820.5" font-size="32.4" text-anchor="end" textLength="39.8" lengthAdjust="spacingAndGlyphs">34</text>
<text x="870.3" y="1020.3" font-size="32.4" text-anchor="end" textLength="19.9" lengthAdjust="spacingAndGlyphs">0</text>
<text x="903.9" y="1054.6" font-size="32.4" text-anchor="middle" textLength="81.0" lengthAdjust="spacingAndGlyphs">-0.67</text>
<text x="1144.6" y="1054.6" font-size="32.4" text-anchor="middle" textLength="81.0" lengthAdjust="spacingAndGlyphs">-0.00</text>
<text x="1158.0" y="793.3" font-size="32.4" text-anchor="end" textLength="97.6" lengthAdjust="spacingAndGlyphs"><tspan font-style="italic">ρ</tspan>:0.12</text>
<g clip-path="url(#c9)">
<polygon points="156.8,1275.2 210.0,1279.8 280.0,1295.0 350.0,1309.0 400.2,1317.2 400.2,1425.7 326.7,1376.7 256.7,1327.7 210.0,1304.3 156.8,1282.2" fill="#5ccc5c" fill-opacity="0.15"/>
<circle cx="156.8" cy="1244.8" r="9.5" fill="#5ccc5c" fill-opacity="0.8" stroke="#000" stroke-opacity="0.8" stroke-width="2.7"/>
<circle cx="200.7" cy="1242.5" r="9.5" fill="#5ccc5c" fill-opacity="0.8" stroke="#000" stroke-opacity="0.8" stroke-width="2.7"/>
<circle cx="169.2" cy="1255.3" r="9.5" fill="#5ccc5c" fill-opacity="0.8" stroke="#000" stroke-opacity="0.8" stroke-width="2.7"/>
<circle cx="184.8" cy="1254.2" r="9.5" fill="#5ccc5c" fill-opacity="0.8" stroke="#000" stroke-opacity="0.8" stroke-width="2.7"/>
<circle cx="204.9" cy="1260.5" r="9.5" fill="#5ccc5c" fill-opacity="0.8" stroke="#000" stroke-opacity="0.8" stroke-width="2.7"/>
<circle cx="164.5" cy="1264.7" r="9.5" fill="#5ccc5c" fill-opacity="0.8" stroke="#000" stroke-opacity="0.8" stroke-width="2.7"/>
<circle cx="182.7" cy="1269.3" r="9.5" fill="#5ccc5c" fill-opacity="0.8" stroke="#000" stroke-opacity="0.8" stroke-width="2.7"/>
<circle cx="214.2" cy="1275.2" r="9.5" fill="#5ccc5c" fill-opacity="0.8" stroke="#000" stroke-opacity="0.8" stroke-width="2.7"/>
<circle cx="185.5" cy="1285.2" r="9.5" fill="#5ccc5c" fill-opacity="0.8" stroke="#000" stroke-opacity="0.8" stroke-width="2.7"/>
<circle cx="158.2" cy="1295.0" r="9.5" fill="#5ccc5c" fill-opacity="0.8" stroke="#000" stroke-opacity="0.8" stroke-width="2.7"/>
<circle cx="169.2" cy="1300.8" r="9.5" fill="#5ccc5c" fill-opacity="0.8" stroke="#000" stroke-opacity="0.8" stroke-width="2.7"/>
<circle cx="189.0" cy="1300.8" r="9.5" fill="#5ccc5c" fill-opacity="0.8" stroke="#000" stroke-opacity="0.8" stroke-width="2.7"/>
<circle cx="222.1" cy="1303.2" r="9.5" fill="#5ccc5c" fill-opacity="0.8" stroke="#000" stroke-opacity="0.8" stroke-width="2.7"/>
<circle cx="211.6" cy="1313.2" r="9.5" fill="#5ccc5c" fill-opacity="0.8" stroke="#000" stroke-opacity="0.8" stroke-width="2.7"/>
<circle cx="249.7" cy="1305.5" r="9.5" fill="#5ccc5c" fill-opacity="0.8" stroke="#000" stroke-opacity="0.8" stroke-width="2.7"/>
<circle cx="250.8" cy="1318.3" r="9.5" fill="#5ccc5c" fill-opacity="0.8" stroke="#000" stroke-opacity="0.8" stroke-width="2.7"/>
<circle cx="239.9" cy="1323.5" r="9.5" fill="#5ccc5c" fill-opacity="0.8" stroke="#000" stroke-opacity="0.8" stroke-width="2.7"/>
<circle cx="401.3" cy="1318.3" r="9.5" fill="#5ccc5c" fill-opacity="0.8" stroke="#000" stroke-opacity="0.8" stroke-width="2.7"/>
<line x1="152.8" y1="1271.7" x2="404.8" y2="1337.0" stroke="#5ccc5c" stroke-width="6.2" stroke-linecap="butt"/>
</g>
<line x1="145.0" y1="1232.0" x2="145.0" y2="1438.25" stroke="#000" stroke-width="4.5"/>
<line x1="142.75" y1="1436.0" x2="414.0" y2="1436.0" stroke="#000" stroke-width="4.5"/>
<line x1="134.0" y1="1240.8" x2="145.0" y2="1240.8" stroke="#000" stroke-width="4.5"/>
<line x1="134.0" y1="1365.8" x2="145.0" y2="1365.8" stroke="#000" stroke-width="4.5"/>
<line x1="156.3" y1="1436.0" x2="156.3" y2="1447.0" stroke="#000" stroke-width="4.5"/>
<line x1="400.5" y1="1436.0" x2="400.5" y2="1447.0" stroke="#000" stroke-width="4.5"/>
<text x="122.5" y="1252.8" font-size="32.4" text-anchor="end" textLength="39.8" lengthAdjust="spacingAndGlyphs">50</text>
<text x="122.5" y="1377.8" font-size="32.4" text-anchor="end" textLength="19.9" lengthAdjust="spacingAndGlyphs">0</text>
<text x="156.3" y="1482.3" font-size="32.4" text-anchor="middle" textLength="69.7" lengthAdjust="spacingAndGlyphs">0.44</text>
<text x="400.5" y="1482.3" font-size="32.4" text-anchor="middle" textLength="69.7" lengthAdjust="spacingAndGlyphs">3.60</text>
<text x="413.0" y="1217.5" font-size="32.4" text-anchor="end" textLength="123.9" lengthAdjust="spacingAndGlyphs"><tspan font-style="italic">ρ</tspan>:-0.67*</text>
<g clip-path="url(#c10)">
<polygon points="536.7,1265.0 620.0,1303.0 656.7,1308.3 723.0,1303.0 780.0,1297.3 780.0,1426.0 706.7,1383.3 620.0,1346.7 536.7,1336.7" fill="#cd5c5c" fill-opacity="0.15"/>
<circle cx="536.7" cy="1287.7" r="9.5" fill="#cd5c5c" fill-opacity="0.8" stroke="#000" stroke-opacity="0.8" stroke-width="2.7"/>
<circle cx="573.3" cy="1247.7" r="9.5" fill="#cd5c5c" fill-opacity="0.8" stroke="#000" stroke-opacity="0.8" stroke-width="2.7"/>
<circle cx="621.0" cy="1242.7" r="9.5" fill="#cd5c5c" fill-opacity="0.8" stroke="#000" stroke-opacity="0.8" stroke-width="2.7"/>
<circle cx="600.7" cy="1267.7" r="9.5" fill="#cd5c5c" fill-opacity="0.8" stroke="#000" stroke-opacity="0.8" stroke-width="2.7"/>
<circle cx="618.3" cy="1267.7" r="9.5" fill="#cd5c5c" fill-opacity="0.8" stroke="#000" stroke-opacity="0.8" stroke-width="2.7"/>
<circle cx="659.3" cy="1277.7" r="9.5" fill="#cd5c5c" fill-opacity="0.8" stroke="#000" stroke-opacity="0.8" stroke-width="2.7"/>
<circle cx="581.7" cy="1297.7" r="9.5" fill="#cd5c5c" fill-opacity="0.8" stroke="#000" stroke-opacity="0.8" stroke-width="2.7"/>
<circle cx="636.0" cy="1307.3" r="9.5" fill="#cd5c5c" fill-opacity="0.8" stroke="#000" stroke-opacity="0.8" stroke-width="2.7"/>
<circle cx="620.0" cy="1327.3" r="9.5" fill="#cd5c5c" fill-opacity="0.8" stroke="#000" stroke-opacity="0.8" stroke-width="2.7"/>
<circle cx="563.3" cy="1347.3" r="9.5" fill="#cd5c5c" fill-opacity="0.8" stroke="#000" stroke-opacity="0.8" stroke-width="2.7"/>
<circle cx="569.3" cy="1357.3" r="9.5" fill="#cd5c5c" fill-opacity="0.8" stroke="#000" stroke-opacity="0.8" stroke-width="2.7"/>
<circle cx="610.0" cy="1357.3" r="9.5" fill="#cd5c5c" fill-opacity="0.8" stroke="#000" stroke-opacity="0.8" stroke-width="2.7"/>
<circle cx="661.7" cy="1361.7" r="9.5" fill="#cd5c5c" fill-opacity="0.8" stroke="#000" stroke-opacity="0.8" stroke-width="2.7"/>
<circle cx="716.0" cy="1367.3" r="9.5" fill="#cd5c5c" fill-opacity="0.8" stroke="#000" stroke-opacity="0.8" stroke-width="2.7"/>
<circle cx="612.7" cy="1381.7" r="9.5" fill="#cd5c5c" fill-opacity="0.8" stroke="#000" stroke-opacity="0.8" stroke-width="2.7"/>
<circle cx="606.7" cy="1391.7" r="9.5" fill="#cd5c5c" fill-opacity="0.8" stroke="#000" stroke-opacity="0.8" stroke-width="2.7"/>
<circle cx="621.0" cy="1401.7" r="9.5" fill="#cd5c5c" fill-opacity="0.8" stroke="#000" stroke-opacity="0.8" stroke-width="2.7"/>
<circle cx="780.0" cy="1391.7" r="9.5" fill="#cd5c5c" fill-opacity="0.8" stroke="#000" stroke-opacity="0.8" stroke-width="2.7"/>
<line x1="534.0" y1="1297.3" x2="783.3" y2="1380.0" stroke="#cd5c5c" stroke-width="6.2" stroke-linecap="butt"/>
</g>
<line x1="525.7" y1="1232.0" x2="525.7" y2="1438.25" stroke="#000" stroke-width="4.5"/>
<line x1="523.45" y1="1436.0" x2="794.0" y2="1436.0" stroke="#000" stroke-width="4.5"/>
<line x1="514.7" y1="1287.7" x2="525.7" y2="1287.7" stroke="#000" stroke-width="4.5"/>
<line x1="514.7" y1="1386.7" x2="525.7" y2="1386.7" stroke="#000" stroke-width="4.5"/>
<line x1="536.7" y1="1436.0" x2="536.7" y2="1447.0" stroke="#000" stroke-width="4.5"/>
<line x1="780.0" y1="1436.0" x2="780.0" y2="1447.0" stroke="#000" stroke-width="4.5"/>
<text x="503.2" y="1299.7" font-size="32.4" text-anchor="end" textLength="39.8" lengthAdjust="spacingAndGlyphs">40</text>
<text x="503.2" y="1398.7" font-size="32.4" text-anchor="end" textLength="39.8" lengthAdjust="spacingAndGlyphs">20</text>
<text x="536.7" y="1482.3" font-size="32.4" text-anchor="middle" textLength="69.7" lengthAdjust="spacingAndGlyphs">0.33</text>
<text x="780.0" y="1482.3" font-size="32.4" text-anchor="middle" textLength="69.7" lengthAdjust="spacingAndGlyphs">3.06</text>
<text x="792.5" y="1217.5" font-size="32.4" text-anchor="end" textLength="108.6" lengthAdjust="spacingAndGlyphs"><tspan font-style="italic">ρ</tspan>:-0.28</text>
<g clip-path="url(#c11)">
<polygon points="917.2,1288.3 962.5,1301.9 1010.0,1309.8 1041.7,1311.4 1089.2,1298.7 1136.7,1278.2 1161.0,1265.5 1161.0,1387.4 1120.8,1376.3 1089.2,1368.4 1041.7,1373.2 994.2,1385.8 946.7,1401.7 917.2,1415.9" fill="#9999ff" fill-opacity="0.15"/>
<circle cx="1060.7" cy="1243.3" r="9.5" fill="#9999ff" fill-opacity="0.8" stroke="#000" stroke-opacity="0.8" stroke-width="2.7"/>
<circle cx="1079.0" cy="1249.0" r="9.5" fill="#9999ff" fill-opacity="0.8" stroke="#000" stroke-opacity="0.8" stroke-width="2.7"/>
<circle cx="978.3" cy="1271.8" r="9.5" fill="#9999ff" fill-opacity="0.8" stroke="#000" stroke-opacity="0.8" stroke-width="2.7"/>
<circle cx="1104.4" cy="1271.8" r="9.5" fill="#9999ff" fill-opacity="0.8" stroke="#000" stroke-opacity="0.8" stroke-width="2.7"/>
<circle cx="1018.5" cy="1282.9" r="9.5" fill="#9999ff" fill-opacity="0.8" stroke="#000" stroke-opacity="0.8" stroke-width="2.7"/>
<circle cx="1161.0" cy="1294.6" r="9.5" fill="#9999ff" fill-opacity="0.8" stroke="#000" stroke-opacity="0.8" stroke-width="2.7"/>
<circle cx="960.9" cy="1306.0" r="9.5" fill="#9999ff" fill-opacity="0.8" stroke="#000" stroke-opacity="0.8" stroke-width="2.7"/>
<circle cx="1049.6" cy="1317.7" r="9.5" fill="#9999ff" fill-opacity="0.8" stroke="#000" stroke-opacity="0.8" stroke-width="2.7"/>
<circle cx="1003.7" cy="1339.9" r="9.5" fill="#9999ff" fill-opacity="0.8" stroke="#000" stroke-opacity="0.8" stroke-width="2.7"/>
<circle cx="1135.7" cy="1363.7" r="9.5" fill="#9999ff" fill-opacity="0.8" stroke="#000" stroke-opacity="0.8" stroke-width="2.7"/>
<circle cx="1047.0" cy="1374.7" r="9.5" fill="#9999ff" fill-opacity="0.8" stroke="#000" stroke-opacity="0.8" stroke-width="2.7"/>
<circle cx="1066.4" cy="1381.1" r="9.5" fill="#9999ff" fill-opacity="0.8" stroke="#000" stroke-opacity="0.8" stroke-width="2.7"/>
<circle cx="1075.9" cy="1375.4" r="9.5" fill="#9999ff" fill-opacity="0.8" stroke="#000" stroke-opacity="0.8" stroke-width="2.7"/>
<circle cx="1003.0" cy="1386.5" r="9.5" fill="#9999ff" fill-opacity="0.8" stroke="#000" stroke-opacity="0.8" stroke-width="2.7"/>
<circle cx="1013.2" cy="1403.9" r="9.5" fill="#9999ff" fill-opacity="0.8" stroke="#000" stroke-opacity="0.8" stroke-width="2.7"/>
<circle cx="1048.6" cy="1415.0" r="9.5" fill="#9999ff" fill-opacity="0.8" stroke="#000" stroke-opacity="0.8" stroke-width="2.7"/>
<circle cx="1116.7" cy="1415.0" r="9.5" fill="#9999ff" fill-opacity="0.8" stroke="#000" stroke-opacity="0.8" stroke-width="2.7"/>
<circle cx="917.2" cy="1426.4" r="9.5" fill="#9999ff" fill-opacity="0.8" stroke="#000" stroke-opacity="0.8" stroke-width="2.7"/>
<line x1="914.0" y1="1360.5" x2="1163.6" y2="1321.9" stroke="#9999ff" stroke-width="6.2" stroke-linecap="butt"/>
</g>
<line x1="905.5" y1="1232.0" x2="905.5" y2="1438.25" stroke="#000" stroke-width="4.5"/>
<line x1="903.25" y1="1436.0" x2="1174.5" y2="1436.0" stroke="#000" stroke-width="4.5"/>
<line x1="894.5" y1="1294.6" x2="905.5" y2="1294.6" stroke="#000" stroke-width="4.5"/>
<line x1="894.5" y1="1409.6" x2="905.5" y2="1409.6" stroke="#000" stroke-width="4.5"/>
<line x1="916.6" y1="1436.0" x2="916.6" y2="1447.0" stroke="#000" stroke-width="4.5"/>
<line x1="1160.4" y1="1436.0" x2="1160.4" y2="1447.0" stroke="#000" stroke-width="4.5"/>
<text x="883.0" y="1306.6" font-size="32.4" text-anchor="end" textLength="39.8" lengthAdjust="spacingAndGlyphs">40</text>
<text x="883.0" y="1421.6" font-size="32.4" text-anchor="end" textLength="39.8" lengthAdjust="spacingAndGlyphs">20</text>
<text x="916.6" y="1482.3" font-size="32.4" text-anchor="middle" textLength="81.0" lengthAdjust="spacingAndGlyphs">-1.08</text>
<text x="1160.4" y="1482.3" font-size="32.4" text-anchor="middle" textLength="81.0" lengthAdjust="spacingAndGlyphs">-0.03</text>
<text x="1173.0" y="1217.5" font-size="32.4" text-anchor="end" textLength="78.2" lengthAdjust="spacingAndGlyphs"><tspan font-style="italic">ρ</tspan>:0.2</text>
<g clip-path="url(#c12)">
<polygon points="156.8,1564.8 186.7,1591.7 233.3,1612.7 280.0,1629.0 326.7,1643.0 373.3,1652.3 400.2,1654.7 400.2,1745.7 338.3,1703.7 280.0,1668.7 233.3,1637.2 186.7,1623.2 156.8,1616.2" fill="#5ccc5c" fill-opacity="0.15"/>
<circle cx="187.8" cy="1566.5" r="9.5" fill="#5ccc5c" fill-opacity="0.8" stroke="#000" stroke-opacity="0.8" stroke-width="2.7"/>
<circle cx="210.7" cy="1569.5" r="9.5" fill="#5ccc5c" fill-opacity="0.8" stroke="#000" stroke-opacity="0.8" stroke-width="2.7"/>
<circle cx="170.8" cy="1583.5" r="9.5" fill="#5ccc5c" fill-opacity="0.8" stroke="#000" stroke-opacity="0.8" stroke-width="2.7"/>
<circle cx="187.8" cy="1584.2" r="9.5" fill="#5ccc5c" fill-opacity="0.8" stroke="#000" stroke-opacity="0.8" stroke-width="2.7"/>
<circle cx="162.2" cy="1597.5" r="9.5" fill="#5ccc5c" fill-opacity="0.8" stroke="#000" stroke-opacity="0.8" stroke-width="2.7"/>
<circle cx="261.3" cy="1590.5" r="9.5" fill="#5ccc5c" fill-opacity="0.8" stroke="#000" stroke-opacity="0.8" stroke-width="2.7"/>
<circle cx="261.3" cy="1605.2" r="9.5" fill="#5ccc5c" fill-opacity="0.8" stroke="#000" stroke-opacity="0.8" stroke-width="2.7"/>
<circle cx="229.8" cy="1611.5" r="9.5" fill="#5ccc5c" fill-opacity="0.8" stroke="#000" stroke-opacity="0.8" stroke-width="2.7"/>
<circle cx="226.8" cy="1625.5" r="9.5" fill="#5ccc5c" fill-opacity="0.8" stroke="#000" stroke-opacity="0.8" stroke-width="2.7"/>
<circle cx="156.8" cy="1639.5" r="9.5" fill="#5ccc5c" fill-opacity="0.8" stroke="#000" stroke-opacity="0.8" stroke-width="2.7"/>
<circle cx="235.7" cy="1646.5" r="9.5" fill="#5ccc5c" fill-opacity="0.8" stroke="#000" stroke-opacity="0.8" stroke-width="2.7"/>
<circle cx="254.8" cy="1646.5" r="9.5" fill="#5ccc5c" fill-opacity="0.8" stroke="#000" stroke-opacity="0.8" stroke-width="2.7"/>
<circle cx="253.2" cy="1653.5" r="9.5" fill="#5ccc5c" fill-opacity="0.8" stroke="#000" stroke-opacity="0.8" stroke-width="2.7"/>
<circle cx="313.8" cy="1664.5" r="9.5" fill="#5ccc5c" fill-opacity="0.8" stroke="#000" stroke-opacity="0.8" stroke-width="2.7"/>
<circle cx="228.7" cy="1671.0" r="9.5" fill="#5ccc5c" fill-opacity="0.8" stroke="#000" stroke-opacity="0.8" stroke-width="2.7"/>
<circle cx="284.2" cy="1677.5" r="9.5" fill="#5ccc5c" fill-opacity="0.8" stroke="#000" stroke-opacity="0.8" stroke-width="2.7"/>
<circle cx="400.9" cy="1671.0" r="9.5" fill="#5ccc5c" fill-opacity="0.8" stroke="#000" stroke-opacity="0.8" stroke-width="2.7"/>
<line x1="154.0" y1="1594.0" x2="403.6" y2="1688.5" stroke="#5ccc5c" stroke-width="6.2" stroke-linecap="butt"/>
</g>
<line x1="145.0" y1="1553.0" x2="145.0" y2="1758.65" stroke="#000" stroke-width="4.5"/>
<line x1="142.75" y1="1756.4" x2="414.0" y2="1756.4" stroke="#000" stroke-width="4.5"/>
<line x1="134.0" y1="1598" x2="145.0" y2="1598" stroke="#000" stroke-width="4.5"/>
<line x1="134.0" y1="1667" x2="145.0" y2="1667" stroke="#000" stroke-width="4.5"/>
<line x1="134.0" y1="1737.2" x2="145.0" y2="1737.2" stroke="#000" stroke-width="4.5"/>
<line x1="156.3" y1="1756.4" x2="156.3" y2="1767.4" stroke="#000" stroke-width="4.5"/>
<line x1="400.5" y1="1756.4" x2="400.5" y2="1767.4" stroke="#000" stroke-width="4.5"/>
<text x="122.5" y="1610.0" font-size="32.4" text-anchor="end" textLength="39.8" lengthAdjust="spacingAndGlyphs">40</text>
<text x="122.5" y="1679.0" font-size="32.4" text-anchor="end" textLength="39.8" lengthAdjust="spacingAndGlyphs">20</text>
<text x="122.5" y="1749.2" font-size="32.4" text-anchor="end" textLength="19.9" lengthAdjust="spacingAndGlyphs">0</text>
<text x="156.3" y="1802.7" font-size="32.4" text-anchor="middle" textLength="69.7" lengthAdjust="spacingAndGlyphs">0.52</text>
<text x="400.5" y="1802.7" font-size="32.4" text-anchor="middle" textLength="69.7" lengthAdjust="spacingAndGlyphs">2.90</text>
<text x="413.0" y="1538.0" font-size="32.4" text-anchor="end" textLength="123.9" lengthAdjust="spacingAndGlyphs"><tspan font-style="italic">ρ</tspan>:-0.61*</text>
<g clip-path="url(#c13)">
<polygon points="536.7,1586.0 590.0,1613.3 640.0,1626.7 673.3,1636.7 723.3,1635.0 780.0,1633.3 780.0,1740.0 723.3,1706.7 656.7,1680.0 590.0,1673.3 536.7,1676.0" fill="#cd5c5c" fill-opacity="0.15"/>
<circle cx="536.7" cy="1614.0" r="9.5" fill="#cd5c5c" fill-opacity="0.8" stroke="#000" stroke-opacity="0.8" stroke-width="2.7"/>
<circle cx="570.0" cy="1569.3" r="9.5" fill="#cd5c5c" fill-opacity="0.8" stroke="#000" stroke-opacity="0.8" stroke-width="2.7"/>
<circle cx="580.0" cy="1591.7" r="9.5" fill="#cd5c5c" fill-opacity="0.8" stroke="#000" stroke-opacity="0.8" stroke-width="2.7"/>
<circle cx="595.0" cy="1591.7" r="9.5" fill="#cd5c5c" fill-opacity="0.8" stroke="#000" stroke-opacity="0.8" stroke-width="2.7"/>
<circle cx="647.7" cy="1564.0" r="9.5" fill="#cd5c5c" fill-opacity="0.8" stroke="#000" stroke-opacity="0.8" stroke-width="2.7"/>
<circle cx="751.7" cy="1602.7" r="9.5" fill="#cd5c5c" fill-opacity="0.8" stroke="#000" stroke-opacity="0.8" stroke-width="2.7"/>
<circle cx="745.0" cy="1625.0" r="9.5" fill="#cd5c5c" fill-opacity="0.8" stroke="#000" stroke-opacity="0.8" stroke-width="2.7"/>
<circle cx="656.7" cy="1636.0" r="9.5" fill="#cd5c5c" fill-opacity="0.8" stroke="#000" stroke-opacity="0.8" stroke-width="2.7"/>
<circle cx="658.3" cy="1659.0" r="9.5" fill="#cd5c5c" fill-opacity="0.8" stroke="#000" stroke-opacity="0.8" stroke-width="2.7"/>
<circle cx="590.0" cy="1681.0" r="9.5" fill="#cd5c5c" fill-opacity="0.8" stroke="#000" stroke-opacity="0.8" stroke-width="2.7"/>
<circle cx="595.0" cy="1692.3" r="9.5" fill="#cd5c5c" fill-opacity="0.8" stroke="#000" stroke-opacity="0.8" stroke-width="2.7"/>
<circle cx="612.7" cy="1692.3" r="9.5" fill="#cd5c5c" fill-opacity="0.8" stroke="#000" stroke-opacity="0.8" stroke-width="2.7"/>
<circle cx="736.7" cy="1697.3" r="9.5" fill="#cd5c5c" fill-opacity="0.8" stroke="#000" stroke-opacity="0.8" stroke-width="2.7"/>
<circle cx="730.7" cy="1702.3" r="9.5" fill="#cd5c5c" fill-opacity="0.8" stroke="#000" stroke-opacity="0.8" stroke-width="2.7"/>
<circle cx="641.7" cy="1719.3" r="9.5" fill="#cd5c5c" fill-opacity="0.8" stroke="#000" stroke-opacity="0.8" stroke-width="2.7"/>
<circle cx="629.0" cy="1730.7" r="9.5" fill="#cd5c5c" fill-opacity="0.8" stroke="#000" stroke-opacity="0.8" stroke-width="2.7"/>
<circle cx="658.3" cy="1730.7" r="9.5" fill="#cd5c5c" fill-opacity="0.8" stroke="#000" stroke-opacity="0.8" stroke-width="2.7"/>
<circle cx="780.0" cy="1741.7" r="9.5" fill="#cd5c5c" fill-opacity="0.8" stroke="#000" stroke-opacity="0.8" stroke-width="2.7"/>
<line x1="534.0" y1="1625.7" x2="783.3" y2="1694.0" stroke="#cd5c5c" stroke-width="6.2" stroke-linecap="butt"/>
</g>
<line x1="525.7" y1="1553.0" x2="525.7" y2="1758.65" stroke="#000" stroke-width="4.5"/>
<line x1="523.45" y1="1756.4" x2="794.0" y2="1756.4" stroke="#000" stroke-width="4.5"/>
<line x1="514.7" y1="1614" x2="525.7" y2="1614" stroke="#000" stroke-width="4.5"/>
<line x1="514.7" y1="1725.7" x2="525.7" y2="1725.7" stroke="#000" stroke-width="4.5"/>
<line x1="536.7" y1="1756.4" x2="536.7" y2="1767.4" stroke="#000" stroke-width="4.5"/>
<line x1="780.0" y1="1756.4" x2="780.0" y2="1767.4" stroke="#000" stroke-width="4.5"/>
<text x="503.2" y="1626.0" font-size="32.4" text-anchor="end" textLength="39.8" lengthAdjust="spacingAndGlyphs">40</text>
<text x="503.2" y="1737.7" font-size="32.4" text-anchor="end" textLength="39.8" lengthAdjust="spacingAndGlyphs">20</text>
<text x="536.7" y="1802.7" font-size="32.4" text-anchor="middle" textLength="69.7" lengthAdjust="spacingAndGlyphs">0.38</text>
<text x="780.0" y="1802.7" font-size="32.4" text-anchor="middle" textLength="69.7" lengthAdjust="spacingAndGlyphs">2.56</text>
<text x="792.5" y="1538.0" font-size="32.4" text-anchor="end" textLength="89.2" lengthAdjust="spacingAndGlyphs"><tspan font-style="italic">ρ</tspan>:-0.4</text>
<g clip-path="url(#c14)">
<polygon points="917.2,1602.0 978.3,1614.0 1025.8,1623.5 1063.8,1626.0 1105.0,1618.7 1136.7,1601.3 1161.0,1591.8 1161.0,1686.8 1120.8,1677.3 1089.2,1671.0 1057.5,1672.6 1010.0,1690.0 962.5,1715.3 917.2,1746.4" fill="#9999ff" fill-opacity="0.15"/>
<circle cx="917.2" cy="1568.7" r="9.5" fill="#9999ff" fill-opacity="0.8" stroke="#000" stroke-opacity="0.8" stroke-width="2.7"/>
<circle cx="1058.4" cy="1563.3" r="9.5" fill="#9999ff" fill-opacity="0.8" stroke="#000" stroke-opacity="0.8" stroke-width="2.7"/>
<circle cx="1127.2" cy="1589.3" r="9.5" fill="#9999ff" fill-opacity="0.8" stroke="#000" stroke-opacity="0.8" stroke-width="2.7"/>
<circle cx="1129.7" cy="1589.3" r="9.5" fill="#9999ff" fill-opacity="0.8" stroke="#000" stroke-opacity="0.8" stroke-width="2.7"/>
<circle cx="1013.8" cy="1599.7" r="9.5" fill="#9999ff" fill-opacity="0.8" stroke="#000" stroke-opacity="0.8" stroke-width="2.7"/>
<circle cx="1046.4" cy="1609.9" r="9.5" fill="#9999ff" fill-opacity="0.8" stroke="#000" stroke-opacity="0.8" stroke-width="2.7"/>
<circle cx="981.5" cy="1620.3" r="9.5" fill="#9999ff" fill-opacity="0.8" stroke="#000" stroke-opacity="0.8" stroke-width="2.7"/>
<circle cx="1111.3" cy="1629.8" r="9.5" fill="#9999ff" fill-opacity="0.8" stroke="#000" stroke-opacity="0.8" stroke-width="2.7"/>
<circle cx="1104.4" cy="1651.4" r="9.5" fill="#9999ff" fill-opacity="0.8" stroke="#000" stroke-opacity="0.8" stroke-width="2.7"/>
<circle cx="1083.5" cy="1671.0" r="9.5" fill="#9999ff" fill-opacity="0.8" stroke="#000" stroke-opacity="0.8" stroke-width="2.7"/>
<circle cx="1096.1" cy="1681.4" r="9.5" fill="#9999ff" fill-opacity="0.8" stroke="#000" stroke-opacity="0.8" stroke-width="2.7"/>
<circle cx="1161.0" cy="1681.4" r="9.5" fill="#9999ff" fill-opacity="0.8" stroke="#000" stroke-opacity="0.8" stroke-width="2.7"/>
<circle cx="1025.8" cy="1686.8" r="9.5" fill="#9999ff" fill-opacity="0.8" stroke="#000" stroke-opacity="0.8" stroke-width="2.7"/>
<circle cx="1048.0" cy="1691.6" r="9.5" fill="#9999ff" fill-opacity="0.8" stroke="#000" stroke-opacity="0.8" stroke-width="2.7"/>
<circle cx="1038.5" cy="1706.8" r="9.5" fill="#9999ff" fill-opacity="0.8" stroke="#000" stroke-opacity="0.8" stroke-width="2.7"/>
<circle cx="954.6" cy="1716.9" r="9.5" fill="#9999ff" fill-opacity="0.8" stroke="#000" stroke-opacity="0.8" stroke-width="2.7"/>
<circle cx="1009.0" cy="1716.9" r="9.5" fill="#9999ff" fill-opacity="0.8" stroke="#000" stroke-opacity="0.8" stroke-width="2.7"/>
<circle cx="1023.6" cy="1727.4" r="9.5" fill="#9999ff" fill-opacity="0.8" stroke="#000" stroke-opacity="0.8" stroke-width="2.7"/>
<line x1="914.0" y1="1657.4" x2="1163.6" y2="1644.1" stroke="#9999ff" stroke-width="6.2" stroke-linecap="butt"/>
</g>
<line x1="905.5" y1="1553.0" x2="905.5" y2="1758.65" stroke="#000" stroke-width="4.5"/>
<line x1="903.25" y1="1756.4" x2="1174.5" y2="1756.4" stroke="#000" stroke-width="4.5"/>
<line x1="894.5" y1="1609.9" x2="905.5" y2="1609.9" stroke="#000" stroke-width="4.5"/>
<line x1="894.5" y1="1712.2" x2="905.5" y2="1712.2" stroke="#000" stroke-width="4.5"/>
<line x1="916.6" y1="1756.4" x2="916.6" y2="1767.4" stroke="#000" stroke-width="4.5"/>
<line x1="1160.4" y1="1756.4" x2="1160.4" y2="1767.4" stroke="#000" stroke-width="4.5"/>
<text x="883.0" y="1621.9" font-size="32.4" text-anchor="end" textLength="39.8" lengthAdjust="spacingAndGlyphs">40</text>
<text x="883.0" y="1724.2" font-size="32.4" text-anchor="end" textLength="39.8" lengthAdjust="spacingAndGlyphs">20</text>
<text x="916.6" y="1802.7" font-size="32.4" text-anchor="middle" textLength="81.0" lengthAdjust="spacingAndGlyphs">-1.34</text>
<text x="1160.4" y="1802.7" font-size="32.4" text-anchor="middle" textLength="81.0" lengthAdjust="spacingAndGlyphs">-0.05</text>
<text x="1173.0" y="1538.0" font-size="32.4" text-anchor="end" textLength="97.6" lengthAdjust="spacingAndGlyphs"><tspan font-style="italic">ρ</tspan>:0.24</text>
<text x="603.5" y="30" font-size="40" text-anchor="middle" font-weight="bold">ADULT</text>
<text x="279.4" y="103" font-size="39.5" text-anchor="middle">THb</text>
<text x="641.8" y="103" font-size="39.5" text-anchor="middle">OHb</text>
<text x="1026.2" y="103" font-size="39.5" text-anchor="middle">DHb</text>
<text x="597.8" y="1149.7" font-size="40" text-anchor="middle" font-weight="bold">CHILD</text>
<text x="17.5" y="173" font-size="51" text-anchor="middle">A</text>
<text x="22" y="490" font-size="51" text-anchor="middle">B</text>
<text x="20" y="805" font-size="51" text-anchor="middle">C</text>
<text x="20" y="1232" font-size="51" text-anchor="middle">D</text>
<text x="22" y="1550" font-size="51" text-anchor="middle">E</text>
<text x="0" y="0" font-size="39" text-anchor="middle" transform="translate(66.2,243.0) rotate(-90)">AQ</text>
<text x="0" y="0" font-size="39" text-anchor="middle" transform="translate(66.2,566.0) rotate(-90)">AQ</text>
<text x="0" y="0" font-size="39" text-anchor="middle" transform="translate(66.2,899.2) rotate(-90)">AQ</text>
<text x="0" y="0" font-size="39" text-anchor="middle" transform="translate(66.2,1307.9) rotate(-90)">AQ</text>
<text x="0" y="0" font-size="39" text-anchor="middle" transform="translate(66.2,1648.8) rotate(-90)">AQ</text>
<text x="291.5" y="1883" font-size="40" text-anchor="middle">Amplitude [ mM ]</text>
<text x="681.5" y="1883" font-size="40" text-anchor="middle">Amplitude [ mM ]</text>
<text x="1048.5" y="1883" font-size="40" text-anchor="middle">Amplitude [ mM ]</text>
</svg>
</body></html>
